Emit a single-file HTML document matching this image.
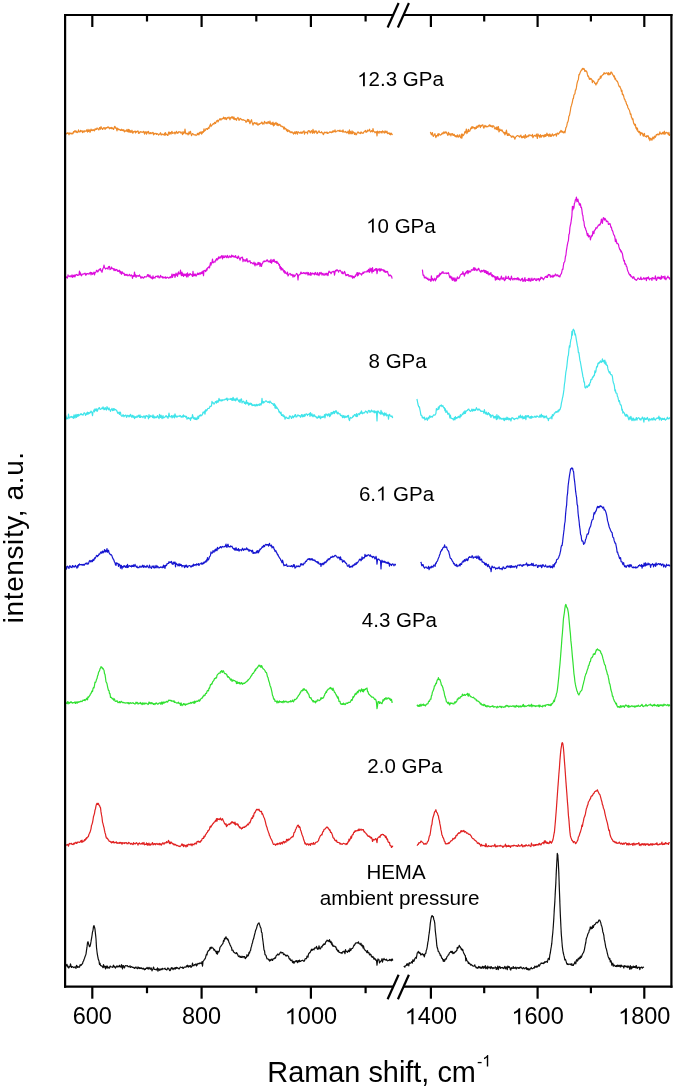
<!DOCTYPE html>
<html><head><meta charset="utf-8"><style>
html,body{margin:0;padding:0;background:#fff;}
svg{display:block;will-change:transform;}
text{font-family:"Liberation Sans",sans-serif;fill:#000;}
.o{fill:transparent;}
</style></head><body>
<svg width="675" height="1088" viewBox="0 0 675 1088">
<defs><filter id="bl" x="-2%" y="-2%" width="104%" height="104%"><feGaussianBlur stdDeviation="0.35"/></filter></defs>
<rect width="675" height="1088" fill="#fff"/>
<g fill="none" stroke-width="1.2" stroke-linejoin="round" filter="url(#bl)">
<path d="M65.5,134.0 66.0,134.2 66.5,133.6 67.0,133.0 67.5,133.3 68.0,132.7 68.5,133.6 69.0,134.8 69.5,133.0 70.0,132.8 70.5,133.7 71.0,133.5 71.5,133.2 72.0,134.1 72.5,133.0 73.0,133.6 73.5,131.6 74.0,132.4 74.5,130.9 75.0,131.4 75.5,130.8 76.0,132.3 76.5,131.2 77.0,132.6 77.5,132.4 78.0,132.0 78.5,129.8 79.0,131.6 79.5,132.0 80.0,132.0 80.5,130.4 81.0,131.3 81.5,130.8 82.0,130.9 82.5,132.6 83.0,130.8 83.5,131.4 84.0,132.2 84.5,130.8 85.0,131.1 85.5,131.3 86.0,131.1 86.5,129.9 87.0,131.0 87.5,132.1 88.0,129.3 88.5,131.5 89.0,130.7 89.5,129.9 90.0,132.3 90.5,131.0 91.0,129.1 91.5,130.2 92.0,130.6 92.5,129.8 93.0,130.5 93.5,129.7 94.0,130.3 94.5,130.9 95.0,128.9 95.5,129.6 96.0,128.9 96.5,129.4 97.0,128.0 97.5,128.5 98.0,128.8 98.5,129.7 99.0,129.9 99.5,127.5 100.0,127.9 100.5,129.2 101.0,126.6 101.5,128.0 102.0,128.3 102.5,129.5 103.0,128.9 103.5,127.8 104.0,127.7 104.5,127.8 105.0,129.4 105.5,128.4 106.0,127.6 106.5,128.2 107.0,127.7 107.5,127.6 108.0,126.7 108.5,127.7 109.0,127.3 109.5,128.8 110.0,128.3 110.5,127.7 111.0,128.3 111.5,127.4 112.0,128.8 112.5,127.8 113.0,128.5 113.5,129.4 114.0,128.4 114.5,126.6 115.0,126.4 115.5,128.1 116.0,127.7 116.5,128.9 117.0,130.9 117.5,128.2 118.0,128.5 118.5,129.5 119.0,129.9 119.5,129.4 120.0,129.5 120.5,130.5 121.0,130.5 121.5,129.2 122.0,130.2 122.5,130.5 123.0,129.6 123.5,130.9 124.0,130.0 124.5,131.8 125.0,131.1 125.5,131.1 126.0,130.5 126.5,131.0 127.0,129.3 127.5,131.7 128.0,131.6 128.5,129.3 129.0,132.2 129.5,129.8 130.0,132.2 130.5,130.7 131.0,132.3 131.5,131.7 132.0,130.2 132.5,132.9 133.0,133.1 133.5,131.7 134.0,131.6 134.5,131.7 135.0,131.0 135.5,133.0 136.0,131.5 136.5,132.0 137.0,131.3 137.5,131.5 138.0,130.9 138.5,133.3 139.0,132.0 139.5,133.1 140.0,132.3 140.5,131.6 141.0,132.0 141.5,131.9 142.0,132.4 142.5,132.1 143.0,132.2 143.5,131.3 144.0,131.8 144.5,134.2 145.0,132.1 145.5,131.8 146.0,133.1 146.5,134.2 147.0,131.5 147.5,132.8 148.0,132.4 148.5,131.4 149.0,133.8 149.5,133.2 150.0,133.3 150.5,132.6 151.0,133.8 151.5,132.9 152.0,133.2 152.5,132.5 153.0,132.4 153.5,134.8 154.0,133.2 154.5,134.0 155.0,133.7 155.5,133.4 156.0,133.3 156.5,134.4 157.0,133.6 157.5,133.8 158.0,134.0 158.5,135.1 159.0,134.6 159.5,134.3 160.0,133.5 160.5,132.7 161.0,134.9 161.5,134.9 162.0,133.9 162.5,134.5 163.0,134.7 163.5,134.7 164.0,134.8 164.5,133.2 165.0,135.4 165.5,132.7 166.0,134.6 166.5,134.2 167.0,134.5 167.5,135.4 168.0,135.3 168.5,132.5 169.0,132.0 169.5,134.2 170.0,132.5 170.5,132.6 171.0,134.1 171.5,131.8 172.0,131.3 172.5,133.4 173.0,133.2 173.5,132.9 174.0,133.0 174.5,132.2 175.0,134.0 175.5,132.8 176.0,132.0 176.5,131.3 177.0,133.3 177.5,132.7 178.0,133.2 178.5,131.8 179.0,132.1 179.5,131.8 180.0,131.9 180.5,132.9 181.0,132.0 181.5,133.0 182.0,133.0 182.5,134.7 183.0,131.5 183.5,133.7 184.0,132.9 184.5,133.0 185.0,129.2 185.5,132.8 186.0,134.0 186.5,133.4 187.0,133.6 187.5,133.4 188.0,134.9 188.5,133.9 189.0,131.9 189.5,133.9 190.0,132.4 190.5,131.3 191.0,133.9 191.5,135.7 192.0,134.6 192.5,133.5 193.0,133.8 193.5,134.4 194.0,134.9 194.5,134.8 195.0,134.7 195.5,134.8 196.0,135.5 196.5,135.1 197.0,134.7 197.5,133.3 198.0,134.6 198.5,133.3 199.0,134.8 199.5,132.3 200.0,133.2 200.5,133.1 201.0,131.6 201.5,134.2 202.0,133.7 202.5,131.7 203.0,132.6 203.5,131.9 204.0,128.8 204.5,131.1 205.0,130.4 205.5,130.2 206.0,128.6 206.5,129.0 207.0,128.6 207.5,129.4 208.0,128.2 208.5,127.7 209.0,128.4 209.5,126.0 210.0,125.7 210.5,123.9 211.0,126.6 211.5,125.6 212.0,125.2 212.5,124.6 213.0,123.7 213.5,123.5 214.0,124.0 214.5,122.4 215.0,122.4 215.5,123.4 216.0,122.2 216.5,121.3 217.0,120.5 217.5,120.2 218.0,122.0 218.5,120.7 219.0,120.1 219.5,119.5 220.0,118.6 220.5,119.4 221.0,120.1 221.5,118.8 222.0,118.8 222.5,118.7 223.0,118.9 223.5,117.2 224.0,118.4 224.5,117.7 225.0,119.3 225.5,117.6 226.0,118.8 226.5,119.6 227.0,117.9 227.5,117.5 228.0,118.2 228.5,118.0 229.0,117.0 229.5,118.4 230.0,119.8 230.5,117.7 231.0,117.7 231.5,116.9 232.0,118.2 232.5,116.8 233.0,117.0 233.5,119.2 234.0,117.2 234.5,119.2 235.0,119.6 235.5,118.5 236.0,118.9 236.5,120.3 237.0,118.4 237.5,118.1 238.0,117.4 238.5,118.9 239.0,120.3 239.5,120.0 240.0,118.3 240.5,118.5 241.0,118.9 241.5,119.8 242.0,119.5 242.5,120.0 243.0,120.2 243.5,119.7 244.0,120.1 244.5,120.5 245.0,120.3 245.5,121.0 246.0,122.4 246.5,121.3 247.0,120.9 247.5,119.4 248.0,121.5 248.5,119.5 249.0,120.2 249.5,122.5 250.0,123.7 250.5,122.0 251.0,120.7 251.5,119.7 252.0,122.1 252.5,123.5 253.0,125.2 253.5,123.5 254.0,122.7 254.5,122.5 255.0,123.7 255.5,123.6 256.0,122.8 256.5,124.1 257.0,122.9 257.5,125.0 258.0,125.0 258.5,125.0 259.0,123.5 259.5,124.3 260.0,123.7 260.5,123.4 261.0,123.3 261.5,122.3 262.0,122.1 262.5,124.1 263.0,123.1 263.5,123.4 264.0,124.0 264.5,121.4 265.0,122.2 265.5,123.0 266.0,123.2 266.5,122.4 267.0,123.7 267.5,122.9 268.0,121.6 268.5,121.8 269.0,123.5 269.5,123.2 270.0,121.0 270.5,124.1 271.0,123.5 271.5,124.3 272.0,122.7 272.5,124.6 273.0,122.2 273.5,125.8 274.0,123.4 274.5,125.1 275.0,123.2 275.5,124.0 276.0,122.4 276.5,123.8 277.0,125.2 277.5,123.3 278.0,125.7 278.5,125.3 279.0,124.2 279.5,125.0 280.0,124.4 280.5,126.1 281.0,125.9 281.5,126.0 282.0,126.8 282.5,126.4 283.0,126.5 283.5,128.0 284.0,129.2 284.5,127.2 285.0,129.0 285.5,128.7 286.0,128.6 286.5,130.6 287.0,129.6 287.5,131.7 288.0,129.8 288.5,131.2 289.0,130.9 289.5,130.7 290.0,132.3 290.5,131.8 291.0,132.8 291.5,132.4 292.0,131.7 292.5,132.8 293.0,133.1 293.5,134.1 294.0,132.4 294.5,133.3 295.0,131.7 295.5,133.9 296.0,132.3 296.5,131.6 297.0,133.2 297.5,134.2 298.0,131.7 298.5,132.1 299.0,132.4 299.5,132.9 300.0,133.3 300.5,132.2 301.0,132.2 301.5,133.3 302.0,132.0 302.5,133.1 303.0,131.7 303.5,131.4 304.0,130.8 304.5,134.2 305.0,132.1 305.5,132.6 306.0,132.2 306.5,132.4 307.0,132.2 307.5,133.9 308.0,131.1 308.5,130.6 309.0,131.1 309.5,130.8 310.0,132.7 310.5,132.8 311.0,131.1 311.5,130.7 312.0,131.7 312.5,133.3 313.0,129.4 313.5,132.6 314.0,131.1 314.5,133.1 315.0,131.2 315.5,131.9 316.0,130.8 316.5,131.4 317.0,133.6 317.5,133.2 318.0,132.1 318.5,131.7 319.0,130.8 319.5,132.2 320.0,132.6 320.5,132.6 321.0,132.6 321.5,131.7 322.0,132.7 322.5,132.8 323.0,134.1 323.5,134.6 324.0,132.8 324.5,132.2 325.0,132.9 325.5,132.4 326.0,132.3 326.5,132.9 327.0,132.0 327.5,133.5 328.0,132.9 328.5,133.1 329.0,132.7 329.5,132.1 330.0,131.8 330.5,132.4 331.0,132.0 331.5,132.7 332.0,132.4 332.5,131.0 333.0,132.2 333.5,130.8 334.0,131.4 334.5,131.6 335.0,129.8 335.5,132.0 336.0,131.7 336.5,131.4 337.0,131.0 337.5,131.0 338.0,130.4 338.5,131.0 339.0,130.7 339.5,131.3 340.0,130.1 340.5,131.4 341.0,131.4 341.5,131.1 342.0,130.9 342.5,131.9 343.0,129.9 343.5,132.0 344.0,131.9 344.5,132.0 345.0,132.2 345.5,131.4 346.0,131.9 346.5,132.8 347.0,132.7 347.5,132.6 348.0,131.1 348.5,133.2 349.0,133.9 349.5,129.8 350.0,133.2 350.5,131.6 351.0,134.0 351.5,133.1 352.0,130.9 352.5,133.6 353.0,131.9 353.5,132.1 354.0,132.7 354.5,134.5 355.0,132.9 355.5,133.5 356.0,134.8 356.5,134.6 357.0,133.0 357.5,132.8 358.0,131.8 358.5,132.3 359.0,133.2 359.5,133.2 360.0,132.8 360.5,133.6 361.0,131.9 361.5,132.5 362.0,133.2 362.5,133.0 363.0,133.3 363.5,132.6 364.0,131.9 364.5,131.3 365.0,131.1 365.5,130.4 366.0,132.4 366.5,131.7 367.0,131.9 367.5,130.0 368.0,131.1 368.5,130.8 369.0,130.5 369.5,129.2 370.0,130.9 370.5,132.0 371.0,131.5 371.5,130.6 372.0,131.1 372.5,131.8 373.0,128.5 373.5,131.0 374.0,131.6 374.5,131.8 375.0,132.8 375.5,132.3 376.0,131.7 376.5,131.8 377.0,135.9 377.5,131.1 378.0,131.5 378.5,132.4 379.0,133.3 379.5,131.4 380.0,131.5 380.5,131.7 381.0,132.8 381.5,131.6 382.0,133.0 382.5,130.8 383.0,131.6 383.5,131.7 384.0,132.7 384.5,133.0 385.0,130.8 385.5,131.4 386.0,132.7 386.5,131.9 387.0,131.2 387.5,133.7 388.0,133.3 388.5,133.5 389.0,132.7 389.5,134.3 390.0,133.3 390.5,134.8 391.0,133.1 391.5,133.4 392.0,134.6 392.5,133.9" stroke="#EE8A2A"/>
<path d="M430.4,131.8 430.9,133.6 431.4,134.8 431.9,133.6 432.4,132.5 432.9,135.7 433.4,136.4 433.9,135.0 434.4,134.9 434.9,133.6 435.4,135.9 435.9,137.6 436.4,135.7 436.9,136.1 437.4,135.4 437.9,133.9 438.4,136.0 438.9,133.5 439.4,134.4 439.9,134.8 440.4,135.2 440.9,134.7 441.4,134.6 441.9,133.4 442.4,132.9 442.9,134.0 443.4,133.2 443.9,131.8 444.4,132.6 444.9,133.3 445.4,131.9 445.9,132.4 446.4,132.1 446.9,133.8 447.4,134.0 447.9,135.5 448.4,132.3 448.9,133.2 449.4,134.8 449.9,133.8 450.4,133.9 450.9,135.9 451.4,134.2 451.9,133.6 452.4,133.7 452.9,135.4 453.4,135.4 453.9,134.2 454.4,134.7 454.9,136.3 455.4,136.6 455.9,135.6 456.4,136.9 456.9,137.0 457.4,134.9 457.9,136.4 458.4,137.1 458.9,136.2 459.4,134.8 459.9,136.5 460.4,137.3 460.9,137.8 461.4,134.0 461.9,138.1 462.4,134.2 462.9,135.7 463.4,135.4 463.9,134.7 464.4,133.4 464.9,131.6 465.4,132.8 465.9,131.1 466.4,129.0 466.9,133.6 467.4,131.3 467.9,132.1 468.4,129.3 468.9,131.3 469.4,131.2 469.9,130.9 470.4,129.3 470.9,127.9 471.4,128.7 471.9,126.6 472.4,126.8 472.9,128.3 473.4,127.1 473.9,127.7 474.4,127.5 474.9,129.2 475.4,128.5 475.9,127.1 476.4,128.5 476.9,126.1 477.4,126.4 477.9,127.4 478.4,125.3 478.9,126.1 479.4,125.0 479.9,126.3 480.4,127.6 480.9,125.4 481.4,126.2 481.9,125.2 482.4,124.9 482.9,124.8 483.4,127.4 483.9,128.2 484.4,126.5 484.9,125.4 485.4,126.7 485.9,125.8 486.4,126.9 486.9,126.5 487.4,126.5 487.9,126.8 488.4,125.8 488.9,126.0 489.4,124.8 489.9,126.1 490.4,125.2 490.9,126.5 491.4,125.8 491.9,126.8 492.4,127.2 492.9,125.5 493.4,126.2 493.9,126.2 494.4,127.9 494.9,129.0 495.4,128.4 495.9,127.5 496.4,129.4 496.9,126.9 497.4,129.9 497.9,128.2 498.4,126.5 498.9,131.8 499.4,131.1 499.9,129.0 500.4,130.4 500.9,130.3 501.4,130.9 501.9,129.7 502.4,130.7 502.9,132.0 503.4,132.0 503.9,133.2 504.4,132.4 504.9,134.9 505.4,132.3 505.9,133.6 506.4,130.2 506.9,132.8 507.4,135.5 507.9,133.8 508.4,135.4 508.9,133.7 509.4,134.6 509.9,135.5 510.4,135.6 510.9,135.8 511.4,137.2 511.9,137.2 512.4,136.2 512.9,135.9 513.4,137.1 513.9,136.7 514.4,137.7 514.9,139.2 515.4,137.5 515.9,136.7 516.4,136.5 516.9,135.8 517.4,135.7 517.9,135.6 518.4,136.1 518.9,136.0 519.4,137.1 519.9,136.0 520.4,136.1 520.9,135.1 521.4,137.7 521.9,136.6 522.4,137.7 522.9,136.7 523.4,137.3 523.9,135.7 524.4,136.5 524.9,138.4 525.4,134.6 525.9,136.9 526.4,137.3 526.9,136.1 527.4,136.4 527.9,136.9 528.4,135.1 528.9,136.1 529.4,134.9 529.9,135.2 530.4,135.1 530.9,135.6 531.4,135.8 531.9,136.1 532.4,134.3 532.9,137.6 533.4,136.8 533.9,135.9 534.4,135.4 534.9,135.6 535.4,136.2 535.9,136.1 536.4,134.1 536.9,136.4 537.4,138.5 537.9,133.9 538.4,135.0 538.9,136.1 539.4,135.6 539.9,137.6 540.4,134.6 540.9,135.9 541.4,137.1 541.9,135.5 542.4,135.3 542.9,135.8 543.4,135.3 543.9,137.2 544.4,134.8 544.9,136.5 545.4,134.5 545.9,136.3 546.4,135.5 546.9,133.0 547.4,135.4 547.9,134.3 548.4,134.8 548.9,136.6 549.4,134.0 549.9,134.0 550.4,136.3 550.9,135.0 551.4,136.3 551.9,135.1 552.4,133.9 552.9,134.7 553.4,135.9 553.9,135.5 554.4,134.6 554.9,134.6 555.4,134.4 555.9,133.8 556.4,136.2 556.9,134.2 557.4,133.0 557.9,133.4 558.4,134.2 558.9,133.7 559.4,132.5 559.9,131.7 560.4,132.2 560.9,130.4 561.4,130.7 561.9,132.2 562.4,131.3 562.9,132.1 563.4,132.8 563.9,132.1 564.4,131.3 564.9,132.9 565.4,130.4 565.9,127.7 566.4,127.0 566.9,125.2 567.4,122.5 567.9,121.9 568.4,119.9 568.9,116.1 569.4,115.6 569.9,113.1 570.4,110.5 570.9,106.9 571.4,105.7 571.9,103.9 572.4,102.0 572.9,98.9 573.4,98.7 573.9,95.2 574.4,94.3 574.9,93.9 575.4,90.1 575.9,89.9 576.4,87.7 576.9,84.1 577.4,82.0 577.9,80.4 578.4,79.4 578.9,74.7 579.4,74.8 579.9,73.3 580.4,71.9 580.9,70.9 581.4,69.9 581.9,70.1 582.4,68.4 582.9,69.0 583.4,69.3 583.9,68.4 584.4,69.6 584.9,71.5 585.4,70.8 585.9,70.5 586.4,71.7 586.9,71.9 587.4,74.4 587.9,76.3 588.4,76.0 588.9,77.5 589.4,79.3 589.9,78.3 590.4,79.3 590.9,78.5 591.4,79.1 591.9,79.7 592.4,82.6 592.9,80.6 593.4,81.0 593.9,81.5 594.4,82.3 594.9,83.5 595.4,83.3 595.9,85.0 596.4,83.0 596.9,83.7 597.4,82.0 597.9,81.6 598.4,79.1 598.9,79.7 599.4,79.2 599.9,78.5 600.4,76.0 600.9,78.2 601.4,76.4 601.9,75.6 602.4,75.2 602.9,74.6 603.4,74.7 603.9,72.8 604.4,72.8 604.9,73.9 605.4,73.7 605.9,73.2 606.4,73.1 606.9,72.8 607.4,73.5 607.9,74.7 608.4,72.6 608.9,75.0 609.4,74.4 609.9,73.2 610.4,74.3 610.9,72.2 611.4,72.1 611.9,72.8 612.4,74.2 612.9,74.9 613.4,75.6 613.9,77.0 614.4,75.9 614.9,79.2 615.4,78.3 615.9,79.8 616.4,80.8 616.9,80.9 617.4,81.5 617.9,82.6 618.4,84.4 618.9,85.9 619.4,86.8 619.9,86.4 620.4,87.8 620.9,88.9 621.4,91.4 621.9,90.3 622.4,94.6 622.9,94.2 623.4,95.0 623.9,97.2 624.4,99.0 624.9,99.5 625.4,101.3 625.9,101.6 626.4,103.8 626.9,105.1 627.4,105.2 627.9,108.0 628.4,108.2 628.9,109.6 629.4,110.1 629.9,112.1 630.4,114.5 630.9,113.9 631.4,117.1 631.9,117.8 632.4,119.6 632.9,118.7 633.4,122.1 633.9,124.0 634.4,123.9 634.9,125.7 635.4,124.3 635.9,128.1 636.4,127.7 636.9,130.0 637.4,128.2 637.9,131.3 638.4,131.1 638.9,132.6 639.4,131.4 639.9,132.1 640.4,135.1 640.9,132.6 641.4,132.9 641.9,133.6 642.4,133.1 642.9,135.4 643.4,136.2 643.9,134.1 644.4,133.4 644.9,136.3 645.4,136.5 645.9,136.5 646.4,137.0 646.9,135.5 647.4,136.5 647.9,135.8 648.4,136.1 648.9,138.8 649.4,137.8 649.9,140.6 650.4,138.7 650.9,138.1 651.4,139.4 651.9,140.2 652.4,138.8 652.9,137.0 653.4,138.2 653.9,138.8 654.4,136.4 654.9,136.1 655.4,137.3 655.9,136.1 656.4,134.5 656.9,134.8 657.4,134.1 657.9,134.7 658.4,134.2 658.9,134.8 659.4,134.2 659.9,131.9 660.4,133.6 660.9,133.9 661.4,133.5 661.9,134.1 662.4,132.6 662.9,132.3 663.4,134.0 663.9,132.2 664.4,131.2 664.9,134.3 665.4,132.7 665.9,133.2 666.4,132.3 666.9,132.5 667.4,132.8 667.9,133.8 668.4,134.7 668.9,132.4 669.4,135.5 669.8,133.9" stroke="#EE8A2A"/>
<path d="M65.5,276.3 66.0,276.5 66.5,277.6 67.0,277.5 67.5,278.0 68.0,274.9 68.5,276.2 69.0,276.1 69.5,276.6 70.0,275.9 70.5,275.8 71.0,277.0 71.5,276.3 72.0,274.9 72.5,277.4 73.0,276.9 73.5,275.3 74.0,276.6 74.5,275.0 75.0,276.8 75.5,275.3 76.0,274.7 76.5,275.0 77.0,274.5 77.5,275.4 78.0,275.3 78.5,275.1 79.0,274.4 79.5,271.2 80.0,274.9 80.5,272.8 81.0,274.9 81.5,275.8 82.0,274.8 82.5,274.0 83.0,274.2 83.5,274.1 84.0,273.6 84.5,273.5 85.0,273.1 85.5,275.2 86.0,273.9 86.5,274.8 87.0,273.5 87.5,273.7 88.0,273.4 88.5,273.9 89.0,274.2 89.5,273.6 90.0,272.5 90.5,272.3 91.0,274.8 91.5,272.7 92.0,272.6 92.5,274.3 93.0,274.0 93.5,273.1 94.0,272.1 94.5,274.8 95.0,272.7 95.5,272.7 96.0,271.8 96.5,270.4 97.0,270.3 97.5,271.9 98.0,271.7 98.5,270.8 99.0,269.6 99.5,269.1 100.0,270.0 100.5,268.6 101.0,270.8 101.5,270.8 102.0,272.3 102.5,270.1 103.0,268.3 103.5,267.8 104.0,265.0 104.5,267.7 105.0,268.0 105.5,269.0 106.0,268.5 106.5,268.4 107.0,268.0 107.5,268.4 108.0,269.2 108.5,266.6 109.0,267.3 109.5,266.4 110.0,269.6 110.5,269.3 111.0,268.9 111.5,267.0 112.0,268.6 112.5,268.3 113.0,268.8 113.5,268.7 114.0,270.7 114.5,268.8 115.0,270.2 115.5,270.5 116.0,269.4 116.5,269.8 117.0,269.7 117.5,271.3 118.0,270.5 118.5,271.4 119.0,271.0 119.5,270.2 120.0,273.0 120.5,271.3 121.0,273.4 121.5,274.3 122.0,271.6 122.5,272.7 123.0,273.4 123.5,273.3 124.0,273.2 124.5,275.3 125.0,274.4 125.5,275.2 126.0,274.4 126.5,275.3 127.0,274.3 127.5,275.1 128.0,275.8 128.5,275.3 129.0,274.9 129.5,274.3 130.0,275.9 130.5,275.9 131.0,275.3 131.5,274.9 132.0,276.2 132.5,278.3 133.0,275.5 133.5,276.2 134.0,276.3 134.5,272.0 135.0,276.1 135.5,274.9 136.0,277.5 136.5,275.8 137.0,275.3 137.5,275.9 138.0,276.4 138.5,275.7 139.0,276.2 139.5,274.9 140.0,276.1 140.5,277.1 141.0,278.4 141.5,277.1 142.0,276.7 142.5,277.7 143.0,277.5 143.5,278.2 144.0,277.7 144.5,276.5 145.0,276.9 145.5,276.8 146.0,277.0 146.5,276.9 147.0,275.9 147.5,274.6 148.0,276.1 148.5,274.7 149.0,276.9 149.5,276.8 150.0,275.1 150.5,277.6 151.0,277.8 151.5,277.0 152.0,278.6 152.5,278.9 153.0,275.8 153.5,278.1 154.0,277.5 154.5,277.5 155.0,278.0 155.5,276.4 156.0,276.5 156.5,276.3 157.0,276.4 157.5,277.1 158.0,275.7 158.5,276.1 159.0,277.8 159.5,277.1 160.0,277.6 160.5,275.3 161.0,276.5 161.5,276.7 162.0,277.3 162.5,276.7 163.0,278.2 163.5,277.2 164.0,277.3 164.5,277.3 165.0,278.0 165.5,276.8 166.0,278.4 166.5,277.7 167.0,277.4 167.5,277.2 168.0,277.6 168.5,278.1 169.0,277.9 169.5,277.2 170.0,277.6 170.5,276.7 171.0,277.7 171.5,276.2 172.0,274.0 172.5,277.3 173.0,275.9 173.5,274.4 174.0,275.2 174.5,274.4 175.0,277.3 175.5,275.5 176.0,273.2 176.5,275.2 177.0,274.1 177.5,276.4 178.0,273.2 178.5,271.9 179.0,274.2 179.5,273.7 180.0,273.6 180.5,270.2 181.0,274.4 181.5,275.7 182.0,272.1 182.5,275.3 183.0,273.5 183.5,276.5 184.0,274.6 184.5,274.1 185.0,275.5 185.5,274.9 186.0,273.9 186.5,277.0 187.0,274.1 187.5,272.9 188.0,276.8 188.5,274.5 189.0,274.3 189.5,275.3 190.0,273.5 190.5,273.7 191.0,274.7 191.5,274.7 192.0,275.3 192.5,276.4 193.0,271.3 193.5,275.8 194.0,275.9 194.5,274.1 195.0,275.4 195.5,274.1 196.0,276.1 196.5,275.3 197.0,274.7 197.5,273.1 198.0,274.4 198.5,273.3 199.0,274.6 199.5,273.5 200.0,272.6 200.5,274.1 201.0,273.6 201.5,272.0 202.0,273.6 202.5,271.8 203.0,271.1 203.5,275.7 204.0,270.5 204.5,270.5 205.0,270.3 205.5,271.6 206.0,271.1 206.5,268.8 207.0,270.1 207.5,267.9 208.0,267.7 208.5,267.6 209.0,266.4 209.5,268.0 210.0,265.2 210.5,262.6 211.0,265.1 211.5,262.8 212.0,262.4 212.5,259.2 213.0,262.9 213.5,262.3 214.0,261.9 214.5,261.8 215.0,262.2 215.5,260.0 216.0,260.7 216.5,258.7 217.0,258.7 217.5,259.9 218.0,258.9 218.5,256.9 219.0,258.4 219.5,257.6 220.0,256.8 220.5,257.9 221.0,256.9 221.5,255.7 222.0,256.1 222.5,258.9 223.0,255.5 223.5,257.2 224.0,257.6 224.5,257.5 225.0,255.6 225.5,256.4 226.0,256.9 226.5,257.5 227.0,256.0 227.5,255.4 228.0,257.6 228.5,257.7 229.0,256.9 229.5,255.9 230.0,256.9 230.5,256.6 231.0,257.4 231.5,255.2 232.0,256.7 232.5,256.4 233.0,255.5 233.5,256.9 234.0,256.8 234.5,256.4 235.0,257.3 235.5,255.5 236.0,257.0 236.5,257.6 237.0,257.6 237.5,258.5 238.0,256.3 238.5,256.1 239.0,258.0 239.5,258.4 240.0,260.2 240.5,258.8 241.0,257.4 241.5,257.4 242.0,257.7 242.5,257.2 243.0,261.6 243.5,259.4 244.0,259.9 244.5,259.9 245.0,261.4 245.5,259.9 246.0,261.0 246.5,258.9 247.0,258.7 247.5,261.7 248.0,262.0 248.5,261.2 249.0,261.1 249.5,261.3 250.0,260.7 250.5,263.2 251.0,262.5 251.5,262.6 252.0,262.8 252.5,263.7 253.0,263.4 253.5,263.8 254.0,262.1 254.5,264.0 255.0,265.9 255.5,263.2 256.0,263.7 256.5,264.9 257.0,265.0 257.5,264.6 258.0,262.3 258.5,264.4 259.0,262.7 259.5,262.9 260.0,266.4 260.5,263.2 261.0,264.2 261.5,266.5 262.0,263.9 262.5,263.7 263.0,261.8 263.5,261.9 264.0,261.0 264.5,261.7 265.0,260.9 265.5,261.2 266.0,261.5 266.5,260.5 267.0,259.9 267.5,259.9 268.0,261.6 268.5,261.1 269.0,262.0 269.5,261.9 270.0,260.5 270.5,262.5 271.0,259.3 271.5,263.2 272.0,262.1 272.5,260.7 273.0,259.9 273.5,261.5 274.0,259.4 274.5,260.6 275.0,262.3 275.5,261.8 276.0,261.4 276.5,263.1 277.0,261.4 277.5,263.4 278.0,263.0 278.5,263.3 279.0,265.3 279.5,264.6 280.0,268.3 280.5,266.5 281.0,269.9 281.5,267.5 282.0,270.0 282.5,268.8 283.0,269.2 283.5,271.3 284.0,272.2 284.5,270.6 285.0,273.4 285.5,271.8 286.0,273.1 286.5,273.6 287.0,274.2 287.5,272.1 288.0,275.9 288.5,275.1 289.0,274.3 289.5,273.9 290.0,273.4 290.5,273.9 291.0,275.3 291.5,275.1 292.0,274.3 292.5,275.0 293.0,277.1 293.5,275.1 294.0,274.8 294.5,276.7 295.0,275.8 295.5,275.3 296.0,274.5 296.5,273.5 297.0,273.8 297.5,274.4 298.0,279.9 298.5,275.1 299.0,275.2 299.5,274.7 300.0,274.6 300.5,273.3 301.0,272.0 301.5,273.6 302.0,273.0 302.5,273.2 303.0,273.5 303.5,272.5 304.0,272.5 304.5,273.5 305.0,273.6 305.5,272.8 306.0,273.9 306.5,273.1 307.0,272.3 307.5,273.3 308.0,275.2 308.5,272.6 309.0,274.5 309.5,274.7 310.0,274.9 310.5,272.5 311.0,275.4 311.5,273.5 312.0,273.1 312.5,273.2 313.0,274.1 313.5,273.5 314.0,273.4 314.5,274.8 315.0,272.8 315.5,272.5 316.0,274.4 316.5,274.4 317.0,274.8 317.5,272.6 318.0,274.8 318.5,274.3 319.0,275.6 319.5,272.6 320.0,274.1 320.5,273.6 321.0,272.3 321.5,273.2 322.0,275.1 322.5,273.5 323.0,273.3 323.5,274.9 324.0,275.1 324.5,275.1 325.0,273.3 325.5,274.0 326.0,275.1 326.5,273.4 327.0,273.3 327.5,274.9 328.0,275.6 328.5,272.7 329.0,271.1 329.5,272.1 330.0,272.4 330.5,272.2 331.0,273.7 331.5,272.7 332.0,271.9 332.5,271.8 333.0,271.3 333.5,272.0 334.0,271.2 334.5,275.1 335.0,272.4 335.5,270.6 336.0,270.3 336.5,270.8 337.0,269.5 337.5,270.5 338.0,270.5 338.5,272.2 339.0,270.9 339.5,270.7 340.0,270.2 340.5,270.6 341.0,271.9 341.5,271.9 342.0,273.5 342.5,271.9 343.0,273.8 343.5,273.2 344.0,273.2 344.5,271.4 345.0,272.4 345.5,274.7 346.0,275.6 346.5,274.7 347.0,275.5 347.5,274.5 348.0,274.8 348.5,274.7 349.0,276.6 349.5,276.1 350.0,275.7 350.5,275.7 351.0,276.8 351.5,276.6 352.0,275.6 352.5,278.2 353.0,276.8 353.5,276.5 354.0,277.9 354.5,277.3 355.0,275.9 355.5,276.3 356.0,274.4 356.5,274.6 357.0,272.7 357.5,276.0 358.0,272.6 358.5,275.1 359.0,273.4 359.5,273.0 360.0,273.6 360.5,273.9 361.0,274.1 361.5,275.1 362.0,273.5 362.5,273.8 363.0,272.1 363.5,273.3 364.0,272.6 364.5,271.8 365.0,272.0 365.5,271.9 366.0,272.0 366.5,272.0 367.0,271.0 367.5,270.6 368.0,272.0 368.5,269.4 369.0,270.3 369.5,272.4 370.0,268.0 370.5,269.9 371.0,271.2 371.5,268.7 372.0,272.9 372.5,267.5 373.0,271.5 373.5,271.5 374.0,270.8 374.5,269.5 375.0,270.1 375.5,268.7 376.0,270.4 376.5,268.5 377.0,273.7 377.5,271.0 378.0,268.9 378.5,269.7 379.0,270.2 379.5,268.7 380.0,271.3 380.5,270.5 381.0,268.7 381.5,270.2 382.0,269.5 382.5,269.7 383.0,270.5 383.5,269.8 384.0,271.7 384.5,270.2 385.0,272.1 385.5,271.3 386.0,272.5 386.5,271.4 387.0,271.7 387.5,271.4 388.0,273.6 388.5,274.3 389.0,276.0 389.5,275.6 390.0,275.0 390.5,275.0 391.0,276.1 391.5,276.2 392.0,278.2 392.5,278.3" stroke="#DC10DC"/>
<path d="M422.4,269.6 422.9,274.3 423.4,275.7 423.9,275.1 424.4,277.8 424.9,277.4 425.4,277.8 425.9,277.0 426.4,278.5 426.9,278.3 427.4,279.3 427.9,278.1 428.4,279.9 428.9,280.2 429.4,279.2 429.9,279.8 430.4,279.7 430.9,281.5 431.4,275.8 431.9,280.1 432.4,278.6 432.9,279.7 433.4,280.8 433.9,279.0 434.4,279.5 434.9,278.2 435.4,280.8 435.9,279.3 436.4,279.1 436.9,276.0 437.4,275.6 437.9,277.3 438.4,276.3 438.9,274.9 439.4,276.1 439.9,273.1 440.4,274.7 440.9,273.5 441.4,273.6 441.9,272.1 442.4,273.1 442.9,271.6 443.4,272.7 443.9,273.5 444.4,273.3 444.9,273.0 445.4,273.2 445.9,273.1 446.4,273.7 446.9,272.8 447.4,273.4 447.9,273.3 448.4,272.7 448.9,274.3 449.4,276.2 449.9,277.7 450.4,276.2 450.9,276.3 451.4,279.0 451.9,277.1 452.4,280.4 452.9,278.6 453.4,277.9 453.9,280.1 454.4,281.0 454.9,277.9 455.4,281.1 455.9,279.2 456.4,280.8 456.9,278.5 457.4,276.8 457.9,278.3 458.4,278.0 458.9,278.6 459.4,277.6 459.9,276.2 460.4,274.9 460.9,274.4 461.4,274.4 461.9,273.6 462.4,274.0 462.9,271.5 463.4,274.1 463.9,273.7 464.4,276.2 464.9,274.2 465.4,272.7 465.9,273.6 466.4,271.5 466.9,272.0 467.4,270.5 467.9,273.7 468.4,272.6 468.9,270.6 469.4,271.5 469.9,272.3 470.4,271.6 470.9,271.3 471.4,269.8 471.9,269.7 472.4,270.0 472.9,270.4 473.4,268.3 473.9,267.7 474.4,270.3 474.9,267.8 475.4,269.8 475.9,269.0 476.4,269.8 476.9,270.7 477.4,269.7 477.9,269.9 478.4,268.3 478.9,268.7 479.4,270.2 479.9,271.2 480.4,271.2 480.9,272.3 481.4,270.4 481.9,270.5 482.4,271.5 482.9,270.7 483.4,270.8 483.9,270.0 484.4,272.4 484.9,270.5 485.4,272.4 485.9,270.7 486.4,273.5 486.9,271.7 487.4,273.9 487.9,271.7 488.4,273.1 488.9,275.0 489.4,273.3 489.9,274.4 490.4,274.1 490.9,272.5 491.4,275.5 491.9,276.0 492.4,274.7 492.9,276.8 493.4,275.7 493.9,275.8 494.4,277.2 494.9,276.8 495.4,280.1 495.9,276.5 496.4,279.0 496.9,279.5 497.4,276.6 497.9,277.0 498.4,279.4 498.9,278.4 499.4,279.3 499.9,280.1 500.4,278.5 500.9,277.8 501.4,276.1 501.9,279.1 502.4,278.0 502.9,279.2 503.4,279.1 503.9,277.5 504.4,280.7 504.9,280.0 505.4,279.8 505.9,276.0 506.4,278.5 506.9,278.3 507.4,278.5 507.9,277.8 508.4,276.4 508.9,279.1 509.4,279.3 509.9,278.4 510.4,280.2 510.9,279.1 511.4,276.1 511.9,278.3 512.4,278.9 512.9,279.9 513.4,278.7 513.9,278.7 514.4,278.3 514.9,279.7 515.4,278.6 515.9,278.5 516.4,278.4 516.9,279.7 517.4,278.6 517.9,277.5 518.4,279.9 518.9,278.6 519.4,279.7 519.9,279.7 520.4,280.6 520.9,280.5 521.4,278.9 521.9,279.3 522.4,278.2 522.9,281.3 523.4,280.1 523.9,281.1 524.4,279.4 524.9,277.6 525.4,281.3 525.9,279.9 526.4,279.9 526.9,279.9 527.4,280.5 527.9,280.4 528.4,278.3 528.9,281.0 529.4,279.4 529.9,278.3 530.4,281.1 530.9,280.9 531.4,279.7 531.9,278.1 532.4,280.2 532.9,280.5 533.4,279.9 533.9,278.6 534.4,279.1 534.9,278.5 535.4,279.9 535.9,280.5 536.4,280.6 536.9,278.7 537.4,279.6 537.9,279.8 538.4,278.6 538.9,278.8 539.4,281.0 539.9,278.9 540.4,279.4 540.9,277.1 541.4,278.3 541.9,277.6 542.4,277.9 542.9,279.0 543.4,279.8 543.9,278.7 544.4,278.1 544.9,277.3 545.4,276.5 545.9,276.8 546.4,277.4 546.9,275.9 547.4,277.5 547.9,275.5 548.4,274.5 548.9,275.2 549.4,274.5 549.9,274.7 550.4,277.2 550.9,275.8 551.4,276.1 551.9,277.0 552.4,277.1 552.9,275.2 553.4,277.0 553.9,276.0 554.4,275.5 554.9,275.9 555.4,274.0 555.9,274.6 556.4,275.2 556.9,275.9 557.4,274.9 557.9,275.1 558.4,276.2 558.9,276.6 559.4,276.0 559.9,276.9 560.4,275.0 560.9,274.2 561.4,273.6 561.9,271.3 562.4,269.2 562.9,269.3 563.4,265.5 563.9,262.7 564.4,262.1 564.9,261.0 565.4,256.7 565.9,255.2 566.4,250.7 566.9,247.7 567.4,244.6 567.9,242.1 568.4,240.8 568.9,234.4 569.4,233.8 569.9,227.6 570.4,225.1 570.9,223.0 571.4,219.3 571.9,215.6 572.4,206.4 572.9,210.0 573.4,206.5 573.9,208.1 574.4,203.4 574.9,202.2 575.4,199.7 575.9,199.8 576.4,197.1 576.9,201.7 577.4,200.9 577.9,199.2 578.4,201.8 578.9,202.7 579.4,205.2 579.9,203.7 580.4,203.9 580.9,207.3 581.4,207.2 581.9,210.1 582.4,214.4 582.9,215.8 583.4,220.5 583.9,221.3 584.4,225.7 584.9,227.7 585.4,227.9 585.9,230.0 586.4,231.0 586.9,233.5 587.4,235.5 587.9,233.7 588.4,237.0 588.9,235.4 589.4,236.4 589.9,235.8 590.4,239.8 590.9,237.4 591.4,236.9 591.9,235.1 592.4,235.8 592.9,231.4 593.4,232.5 593.9,233.7 594.4,230.2 594.9,229.9 595.4,229.9 595.9,227.7 596.4,227.9 596.9,228.2 597.4,226.8 597.9,226.4 598.4,225.0 598.9,225.1 599.4,224.3 599.9,225.1 600.4,223.7 600.9,222.1 601.4,219.1 601.9,221.8 602.4,223.4 602.9,219.1 603.4,217.6 603.9,218.2 604.4,220.2 604.9,218.3 605.4,219.1 605.9,220.2 606.4,221.6 606.9,220.9 607.4,221.4 607.9,221.5 608.4,224.3 608.9,224.4 609.4,223.9 609.9,223.4 610.4,225.0 610.9,227.4 611.4,227.1 611.9,229.9 612.4,230.5 612.9,231.8 613.4,233.7 613.9,235.1 614.4,235.4 614.9,237.5 615.4,241.6 615.9,239.2 616.4,241.1 616.9,243.7 617.4,243.4 617.9,243.7 618.4,244.1 618.9,246.9 619.4,248.4 619.9,249.8 620.4,249.6 620.9,251.8 621.4,251.1 621.9,252.8 622.4,253.6 622.9,257.0 623.4,259.2 623.9,261.1 624.4,260.5 624.9,264.2 625.4,263.7 625.9,264.5 626.4,266.7 626.9,266.8 627.4,269.6 627.9,271.2 628.4,272.0 628.9,273.9 629.4,274.1 629.9,275.3 630.4,274.6 630.9,276.7 631.4,276.2 631.9,276.9 632.4,277.7 632.9,278.3 633.4,276.7 633.9,277.0 634.4,278.5 634.9,279.5 635.4,279.4 635.9,280.0 636.4,280.4 636.9,279.6 637.4,279.1 637.9,278.0 638.4,278.1 638.9,278.6 639.4,279.4 639.9,279.3 640.4,279.1 640.9,277.0 641.4,279.7 641.9,279.2 642.4,279.2 642.9,279.2 643.4,278.2 643.9,277.7 644.4,279.1 644.9,279.0 645.4,278.3 645.9,278.0 646.4,280.6 646.9,277.5 647.4,278.0 647.9,278.4 648.4,276.9 648.9,278.2 649.4,279.8 649.9,279.0 650.4,278.6 650.9,278.6 651.4,278.1 651.9,280.4 652.4,277.8 652.9,277.6 653.4,278.1 653.9,278.9 654.4,278.3 654.9,278.7 655.4,275.9 655.9,279.2 656.4,280.4 656.9,279.4 657.4,277.7 657.9,277.1 658.4,278.3 658.9,277.0 659.4,278.7 659.9,277.5 660.4,279.0 660.9,279.4 661.4,275.9 661.9,278.3 662.4,277.3 662.9,276.5 663.4,276.5 663.9,277.6 664.4,278.9 664.9,276.2 665.4,278.8 665.9,279.7 666.4,278.2 666.9,278.0 667.4,277.4 667.9,276.1 668.4,277.8 668.9,277.5 669.4,277.8 669.8,279.6" stroke="#DC10DC"/>
<path d="M65.5,418.2 66.0,415.8 66.5,419.0 67.0,418.1 67.5,418.2 68.0,418.8 68.5,414.1 69.0,417.2 69.5,418.0 70.0,417.6 70.5,416.8 71.0,417.0 71.5,416.4 72.0,417.5 72.5,417.7 73.0,416.6 73.5,418.4 74.0,414.8 74.5,416.1 75.0,418.0 75.5,415.7 76.0,414.4 76.5,417.3 77.0,416.4 77.5,414.5 78.0,416.4 78.5,414.4 79.0,415.7 79.5,415.1 80.0,414.7 80.5,413.9 81.0,414.6 81.5,413.8 82.0,414.8 82.5,414.6 83.0,415.2 83.5,413.9 84.0,412.9 84.5,412.8 85.0,413.7 85.5,415.4 86.0,414.6 86.5,413.0 87.0,414.4 87.5,412.1 88.0,414.2 88.5,412.6 89.0,413.6 89.5,413.3 90.0,412.2 90.5,412.6 91.0,411.0 91.5,411.8 92.0,412.8 92.5,415.7 93.0,412.0 93.5,411.2 94.0,409.9 94.5,411.8 95.0,408.9 95.5,409.5 96.0,410.5 96.5,408.8 97.0,411.4 97.5,410.8 98.0,408.9 98.5,408.8 99.0,407.8 99.5,407.6 100.0,409.4 100.5,409.4 101.0,409.0 101.5,408.8 102.0,407.9 102.5,408.7 103.0,406.8 103.5,408.3 104.0,409.7 104.5,409.5 105.0,407.7 105.5,407.8 106.0,409.6 106.5,410.0 107.0,406.7 107.5,407.9 108.0,408.7 108.5,409.8 109.0,407.8 109.5,409.4 110.0,410.1 110.5,411.4 111.0,409.6 111.5,409.1 112.0,408.5 112.5,410.6 113.0,410.4 113.5,408.7 114.0,410.3 114.5,408.9 115.0,409.8 115.5,409.5 116.0,409.8 116.5,410.8 117.0,410.9 117.5,412.8 118.0,413.4 118.5,412.7 119.0,412.2 119.5,414.5 120.0,412.0 120.5,412.4 121.0,415.5 121.5,415.8 122.0,416.4 122.5,416.0 123.0,414.6 123.5,415.5 124.0,416.8 124.5,415.6 125.0,415.7 125.5,415.0 126.0,415.3 126.5,417.3 127.0,416.9 127.5,415.3 128.0,415.3 128.5,415.9 129.0,417.0 129.5,415.3 130.0,416.3 130.5,414.3 131.0,415.2 131.5,416.9 132.0,417.4 132.5,415.3 133.0,415.7 133.5,417.3 134.0,416.1 134.5,418.6 135.0,417.0 135.5,416.7 136.0,417.6 136.5,417.3 137.0,415.9 137.5,417.1 138.0,416.4 138.5,415.2 139.0,415.5 139.5,417.5 140.0,414.8 140.5,417.5 141.0,416.7 141.5,416.3 142.0,417.0 142.5,416.9 143.0,417.7 143.5,416.0 144.0,416.2 144.5,416.2 145.0,418.4 145.5,417.4 146.0,415.5 146.5,416.1 147.0,415.7 147.5,416.5 148.0,416.7 148.5,418.8 149.0,414.6 149.5,417.5 150.0,416.9 150.5,415.7 151.0,416.3 151.5,416.0 152.0,416.5 152.5,417.5 153.0,414.9 153.5,417.8 154.0,416.1 154.5,418.0 155.0,416.9 155.5,417.7 156.0,417.0 156.5,417.6 157.0,416.5 157.5,415.6 158.0,417.2 158.5,417.2 159.0,418.6 159.5,414.4 160.0,416.3 160.5,417.5 161.0,415.2 161.5,416.2 162.0,418.6 162.5,417.9 163.0,415.6 163.5,417.9 164.0,417.7 164.5,417.3 165.0,416.9 165.5,416.7 166.0,415.6 166.5,415.9 167.0,417.2 167.5,416.6 168.0,418.4 168.5,416.1 169.0,413.2 169.5,416.1 170.0,416.8 170.5,416.9 171.0,416.5 171.5,415.6 172.0,418.0 172.5,415.8 173.0,417.2 173.5,416.2 174.0,415.2 174.5,417.9 175.0,413.9 175.5,415.6 176.0,416.9 176.5,416.1 177.0,417.2 177.5,416.4 178.0,416.0 178.5,416.2 179.0,416.3 179.5,416.3 180.0,415.4 180.5,415.7 181.0,417.1 181.5,417.1 182.0,416.5 182.5,415.8 183.0,417.3 183.5,414.9 184.0,416.4 184.5,416.5 185.0,416.0 185.5,417.1 186.0,416.3 186.5,416.3 187.0,419.1 187.5,418.1 188.0,418.6 188.5,417.6 189.0,418.6 189.5,418.5 190.0,418.1 190.5,420.3 191.0,417.7 191.5,418.3 192.0,418.0 192.5,414.6 193.0,416.8 193.5,418.3 194.0,418.9 194.5,417.7 195.0,419.4 195.5,419.5 196.0,417.7 196.5,419.4 197.0,419.6 197.5,418.0 198.0,416.2 198.5,418.6 199.0,416.4 199.5,415.4 200.0,415.9 200.5,414.8 201.0,416.0 201.5,415.2 202.0,415.2 202.5,414.3 203.0,412.2 203.5,412.3 204.0,412.9 204.5,411.2 205.0,414.1 205.5,410.4 206.0,409.7 206.5,411.0 207.0,410.2 207.5,409.0 208.0,408.3 208.5,408.5 209.0,408.4 209.5,407.8 210.0,406.2 210.5,406.4 211.0,406.3 211.5,405.7 212.0,401.3 212.5,403.1 213.0,402.7 213.5,402.9 214.0,404.2 214.5,403.3 215.0,402.6 215.5,401.6 216.0,401.5 216.5,403.1 217.0,400.5 217.5,401.2 218.0,402.4 218.5,401.0 219.0,398.4 219.5,400.7 220.0,399.8 220.5,400.0 221.0,401.1 221.5,400.5 222.0,399.6 222.5,400.7 223.0,400.2 223.5,399.8 224.0,400.0 224.5,399.9 225.0,399.2 225.5,399.0 226.0,399.5 226.5,398.4 227.0,398.1 227.5,400.6 228.0,399.0 228.5,399.2 229.0,399.1 229.5,399.2 230.0,399.2 230.5,399.3 231.0,398.4 231.5,400.2 232.0,398.5 232.5,400.3 233.0,397.4 233.5,398.3 234.0,400.5 234.5,399.4 235.0,398.9 235.5,400.9 236.0,398.8 236.5,400.0 237.0,397.8 237.5,399.7 238.0,399.6 238.5,401.0 239.0,401.5 239.5,399.8 240.0,402.5 240.5,400.4 241.0,399.0 241.5,398.9 242.0,403.0 242.5,401.5 243.0,401.6 243.5,401.1 244.0,402.1 244.5,403.5 245.0,402.2 245.5,404.2 246.0,402.3 246.5,400.3 247.0,403.6 247.5,402.5 248.0,402.8 248.5,405.2 249.0,403.1 249.5,404.7 250.0,403.7 250.5,403.1 251.0,404.5 251.5,403.5 252.0,405.6 252.5,405.4 253.0,404.7 253.5,405.4 254.0,405.4 254.5,404.7 255.0,406.0 255.5,404.9 256.0,405.9 256.5,404.3 257.0,405.4 257.5,405.7 258.0,404.4 258.5,404.6 259.0,405.2 259.5,405.3 260.0,403.5 260.5,404.3 261.0,405.1 261.5,403.5 262.0,398.3 262.5,402.6 263.0,403.2 263.5,401.5 264.0,402.7 264.5,402.0 265.0,401.8 265.5,401.0 266.0,400.8 266.5,401.2 267.0,401.6 267.5,402.2 268.0,402.3 268.5,401.7 269.0,402.3 269.5,402.9 270.0,401.0 270.5,402.2 271.0,402.4 271.5,403.3 272.0,403.5 272.5,403.8 273.0,403.5 273.5,405.3 274.0,405.2 274.5,403.7 275.0,408.0 275.5,405.1 276.0,408.5 276.5,406.9 277.0,407.6 277.5,408.7 278.0,409.0 278.5,409.8 279.0,412.1 279.5,411.4 280.0,412.7 280.5,413.6 281.0,412.1 281.5,415.4 282.0,415.0 282.5,415.8 283.0,414.5 283.5,416.6 284.0,416.6 284.5,416.0 285.0,419.2 285.5,417.7 286.0,417.0 286.5,417.5 287.0,418.2 287.5,418.5 288.0,417.9 288.5,418.5 289.0,418.7 289.5,415.9 290.0,416.7 290.5,416.1 291.0,417.1 291.5,418.5 292.0,417.6 292.5,415.8 293.0,416.5 293.5,417.7 294.0,416.1 294.5,416.4 295.0,414.7 295.5,414.5 296.0,417.1 296.5,416.5 297.0,416.7 297.5,415.0 298.0,415.1 298.5,415.2 299.0,416.0 299.5,415.7 300.0,415.7 300.5,417.3 301.0,416.7 301.5,414.6 302.0,414.6 302.5,416.9 303.0,414.8 303.5,416.4 304.0,416.6 304.5,414.4 305.0,416.1 305.5,414.9 306.0,413.9 306.5,413.8 307.0,414.3 307.5,415.6 308.0,414.3 308.5,414.5 309.0,414.3 309.5,413.4 310.0,416.4 310.5,412.6 311.0,414.4 311.5,415.7 312.0,413.9 312.5,416.0 313.0,416.8 313.5,414.8 314.0,416.0 314.5,414.8 315.0,416.6 315.5,416.4 316.0,416.6 316.5,417.9 317.0,417.2 317.5,418.2 318.0,417.6 318.5,415.8 319.0,417.4 319.5,417.7 320.0,415.8 320.5,418.7 321.0,417.4 321.5,417.7 322.0,416.4 322.5,417.3 323.0,417.4 323.5,416.7 324.0,416.9 324.5,414.5 325.0,417.9 325.5,415.1 326.0,413.8 326.5,414.8 327.0,414.7 327.5,415.9 328.0,414.1 328.5,415.1 329.0,413.6 329.5,416.6 330.0,414.6 330.5,415.9 331.0,412.6 331.5,414.1 332.0,412.3 332.5,413.8 333.0,413.7 333.5,411.3 334.0,411.7 334.5,413.6 335.0,411.4 335.5,412.1 336.0,410.5 336.5,411.6 337.0,413.3 337.5,413.9 338.0,412.2 338.5,413.1 339.0,413.9 339.5,413.9 340.0,413.7 340.5,415.5 341.0,415.7 341.5,415.8 342.0,415.2 342.5,417.7 343.0,417.7 343.5,415.7 344.0,416.2 344.5,417.8 345.0,415.9 345.5,417.3 346.0,417.1 346.5,416.4 347.0,417.0 347.5,415.7 348.0,416.8 348.5,415.3 349.0,419.6 349.5,420.6 350.0,418.4 350.5,417.4 351.0,418.0 351.5,418.1 352.0,417.7 352.5,417.5 353.0,415.8 353.5,416.6 354.0,415.5 354.5,414.6 355.0,414.5 355.5,415.9 356.0,416.3 356.5,413.6 357.0,416.6 357.5,416.1 358.0,414.0 358.5,413.7 359.0,413.9 359.5,414.7 360.0,413.1 360.5,412.2 361.0,413.5 361.5,410.8 362.0,412.9 362.5,413.8 363.0,412.8 363.5,413.1 364.0,412.7 364.5,412.8 365.0,412.1 365.5,411.0 366.0,411.5 366.5,411.6 367.0,412.8 367.5,413.1 368.0,411.8 368.5,410.5 369.0,410.4 369.5,410.9 370.0,412.5 370.5,411.3 371.0,410.9 371.5,410.1 372.0,411.8 372.5,411.2 373.0,410.9 373.5,411.0 374.0,412.7 374.5,410.8 375.0,412.8 375.5,412.4 376.0,411.2 376.5,412.2 377.0,420.9 377.5,411.0 378.0,411.6 378.5,411.1 379.0,412.8 379.5,412.6 380.0,413.5 380.5,414.1 381.0,410.3 381.5,414.0 382.0,412.0 382.5,414.1 383.0,413.2 383.5,414.4 384.0,415.8 384.5,412.8 385.0,414.9 385.5,414.8 386.0,413.1 386.5,415.8 387.0,415.3 387.5,414.9 388.0,414.9 388.5,419.1 389.0,415.5 389.5,414.3 390.0,415.3 390.5,416.1 391.0,416.2 391.5,416.7 392.0,415.9 392.5,417.7 392.6,416.7" stroke="#40E4EA"/>
<path d="M416.9,399.0 417.4,401.1 417.9,404.0 418.4,405.8 418.9,407.0 419.4,406.9 419.9,409.6 420.4,411.8 420.9,415.1 421.4,415.1 421.9,415.8 422.4,418.0 422.9,417.2 423.4,417.8 423.9,418.4 424.4,417.1 424.9,419.9 425.4,419.5 425.9,418.8 426.4,417.9 426.9,419.2 427.4,420.3 427.9,418.1 428.4,417.5 428.9,418.8 429.4,416.6 429.9,415.7 430.4,417.3 430.9,416.9 431.4,417.0 431.9,416.4 432.4,417.0 432.9,416.0 433.4,415.2 433.9,414.8 434.4,415.1 434.9,415.2 435.4,414.5 435.9,413.5 436.4,408.5 436.9,409.9 437.4,409.7 437.9,409.4 438.4,406.8 438.9,409.1 439.4,407.2 439.9,405.6 440.4,405.9 440.9,405.3 441.4,405.0 441.9,406.6 442.4,406.1 442.9,405.6 443.4,407.0 443.9,408.1 444.4,407.7 444.9,410.6 445.4,408.8 445.9,412.3 446.4,412.0 446.9,410.8 447.4,412.6 447.9,414.3 448.4,413.5 448.9,413.1 449.4,415.2 449.9,418.0 450.4,415.2 450.9,418.1 451.4,418.2 451.9,418.6 452.4,418.6 452.9,418.7 453.4,420.0 453.9,419.4 454.4,417.5 454.9,419.9 455.4,416.6 455.9,418.6 456.4,417.5 456.9,418.3 457.4,417.2 457.9,417.7 458.4,416.3 458.9,417.1 459.4,416.2 459.9,417.9 460.4,414.7 460.9,416.4 461.4,415.4 461.9,414.8 462.4,413.8 462.9,414.5 463.4,412.3 463.9,412.0 464.4,413.7 464.9,410.9 465.4,413.4 465.9,411.2 466.4,411.2 466.9,410.6 467.4,410.5 467.9,409.5 468.4,409.1 468.9,409.2 469.4,410.4 469.9,410.7 470.4,411.4 470.9,410.9 471.4,410.7 471.9,409.0 472.4,411.1 472.9,410.9 473.4,409.3 473.9,410.2 474.4,410.6 474.9,409.4 475.4,410.4 475.9,409.7 476.4,407.7 476.9,409.0 477.4,409.2 477.9,410.3 478.4,409.0 478.9,409.5 479.4,409.1 479.9,410.2 480.4,410.4 480.9,411.5 481.4,411.5 481.9,411.0 482.4,411.3 482.9,411.4 483.4,411.6 483.9,413.3 484.4,409.5 484.9,412.1 485.4,412.9 485.9,414.1 486.4,412.1 486.9,413.9 487.4,414.7 487.9,413.7 488.4,412.5 488.9,414.3 489.4,413.7 489.9,415.9 490.4,414.6 490.9,417.5 491.4,416.0 491.9,415.2 492.4,415.7 492.9,415.2 493.4,416.9 493.9,418.1 494.4,416.5 494.9,417.8 495.4,416.1 495.9,417.5 496.4,419.7 496.9,414.5 497.4,418.8 497.9,418.9 498.4,415.9 498.9,416.5 499.4,417.0 499.9,419.1 500.4,417.8 500.9,418.2 501.4,419.2 501.9,418.7 502.4,418.9 502.9,418.4 503.4,419.9 503.9,418.1 504.4,420.6 504.9,418.6 505.4,418.2 505.9,419.7 506.4,419.6 506.9,417.1 507.4,419.4 507.9,417.8 508.4,418.3 508.9,420.0 509.4,418.3 509.9,419.5 510.4,418.7 510.9,421.0 511.4,418.9 511.9,417.7 512.4,417.8 512.9,417.9 513.4,418.9 513.9,418.7 514.4,419.6 514.9,418.7 515.4,418.5 515.9,418.6 516.4,418.1 516.9,418.4 517.4,418.8 517.9,418.7 518.4,417.3 518.9,416.0 519.4,416.8 519.9,417.9 520.4,415.0 520.9,416.9 521.4,417.8 521.9,416.7 522.4,416.0 522.9,418.9 523.4,418.5 523.9,416.7 524.4,418.3 524.9,418.2 525.4,415.7 525.9,419.6 526.4,415.9 526.9,416.6 527.4,415.7 527.9,416.9 528.4,415.5 528.9,416.9 529.4,418.0 529.9,417.1 530.4,416.6 530.9,418.5 531.4,416.0 531.9,417.9 532.4,416.6 532.9,417.1 533.4,417.0 533.9,417.1 534.4,416.9 534.9,416.2 535.4,416.4 535.9,417.4 536.4,416.9 536.9,415.8 537.4,416.3 537.9,416.3 538.4,417.0 538.9,417.2 539.4,417.2 539.9,415.1 540.4,417.1 540.9,415.7 541.4,414.2 541.9,417.1 542.4,415.5 542.9,416.3 543.4,416.0 543.9,417.9 544.4,416.1 544.9,417.6 545.4,416.9 545.9,416.2 546.4,415.9 546.9,418.1 547.4,418.1 547.9,418.6 548.4,420.6 548.9,418.3 549.4,418.4 549.9,418.0 550.4,418.2 550.9,417.5 551.4,416.5 551.9,419.0 552.4,414.5 552.9,416.0 553.4,415.6 553.9,414.6 554.4,412.9 554.9,413.2 555.4,412.5 555.9,411.6 556.4,412.3 556.9,411.7 557.4,411.2 557.9,412.2 558.4,410.0 558.9,411.1 559.4,409.5 559.9,409.8 560.4,408.2 560.9,406.6 561.4,403.2 561.9,401.1 562.4,398.4 562.9,396.3 563.4,393.3 563.9,389.9 564.4,384.5 564.9,381.5 565.4,376.1 565.9,371.8 566.4,369.4 566.9,365.8 567.4,360.9 567.9,356.6 568.4,355.3 568.9,349.8 569.4,345.8 569.9,347.1 570.4,342.3 570.9,339.5 571.4,338.4 571.9,331.4 572.4,335.2 572.9,330.1 573.4,329.2 573.9,330.3 574.4,330.7 574.9,334.9 575.4,334.0 575.9,336.9 576.4,340.1 576.9,342.9 577.4,345.9 577.9,347.9 578.4,352.6 578.9,352.7 579.4,356.4 579.9,360.2 580.4,362.0 580.9,365.0 581.4,367.9 581.9,370.9 582.4,373.4 582.9,376.7 583.4,377.9 583.9,381.9 584.4,381.8 584.9,387.2 585.4,388.0 585.9,387.7 586.4,386.3 586.9,385.8 587.4,387.4 587.9,386.1 588.4,386.2 588.9,384.5 589.4,385.7 589.9,382.9 590.4,382.6 590.9,379.6 591.4,379.4 591.9,379.6 592.4,377.6 592.9,376.7 593.4,377.0 593.9,375.2 594.4,375.5 594.9,370.8 595.4,372.7 595.9,371.3 596.4,367.7 596.9,366.3 597.4,366.9 597.9,363.6 598.4,362.9 598.9,363.5 599.4,362.1 599.9,362.5 600.4,360.8 600.9,361.7 601.4,362.3 601.9,361.4 602.4,358.8 602.9,361.7 603.4,361.3 603.9,360.5 604.4,363.1 604.9,360.2 605.4,364.2 605.9,362.1 606.4,365.1 606.9,365.0 607.4,365.6 607.9,368.9 608.4,370.5 608.9,371.7 609.4,373.0 609.9,371.7 610.4,373.8 610.9,374.7 611.4,374.6 611.9,375.0 612.4,376.5 612.9,380.4 613.4,382.9 613.9,383.8 614.4,385.9 614.9,390.8 615.4,389.8 615.9,392.9 616.4,393.2 616.9,393.3 617.4,396.3 617.9,397.0 618.4,399.7 618.9,401.7 619.4,400.5 619.9,403.2 620.4,404.8 620.9,404.8 621.4,406.0 621.9,410.1 622.4,409.5 622.9,413.1 623.4,411.9 623.9,412.8 624.4,413.0 624.9,415.0 625.4,416.1 625.9,414.9 626.4,414.4 626.9,416.3 627.4,415.1 627.9,416.3 628.4,418.5 628.9,419.9 629.4,418.3 629.9,417.1 630.4,419.2 630.9,416.4 631.4,418.2 631.9,420.7 632.4,420.1 632.9,418.1 633.4,418.0 633.9,420.6 634.4,419.7 634.9,419.1 635.4,420.1 635.9,419.0 636.4,417.5 636.9,420.2 637.4,418.6 637.9,418.1 638.4,417.7 638.9,418.2 639.4,418.2 639.9,419.7 640.4,418.8 640.9,420.1 641.4,418.7 641.9,418.4 642.4,417.0 642.9,417.9 643.4,419.8 643.9,422.1 644.4,417.8 644.9,418.0 645.4,419.4 645.9,419.5 646.4,418.4 646.9,419.1 647.4,417.4 647.9,418.7 648.4,420.0 648.9,421.0 649.4,418.9 649.9,418.8 650.4,419.5 650.9,420.2 651.4,419.5 651.9,418.3 652.4,419.4 652.9,420.0 653.4,418.3 653.9,417.7 654.4,419.6 654.9,419.4 655.4,420.0 655.9,419.1 656.4,418.4 656.9,418.5 657.4,417.9 657.9,418.0 658.4,418.4 658.9,416.0 659.4,420.0 659.9,417.6 660.4,418.8 660.9,418.2 661.4,420.3 661.9,419.0 662.4,418.3 662.9,419.5 663.4,418.7 663.9,419.4 664.4,418.2 664.9,419.2 665.4,420.2 665.9,419.6 666.4,419.2 666.9,418.5 667.4,417.2 667.9,418.9 668.4,418.3 668.9,418.8 669.4,418.1 669.8,417.4" stroke="#40E4EA"/>
<path d="M65.5,566.2 66.0,567.0 66.5,569.2 67.0,566.7 67.5,566.2 68.0,567.0 68.5,567.4 69.0,568.5 69.5,566.0 70.0,565.7 70.5,566.7 71.0,567.3 71.5,567.2 72.0,567.7 72.5,565.5 73.0,566.0 73.5,566.5 74.0,567.2 74.5,566.8 75.0,566.0 75.5,565.4 76.0,566.9 76.5,566.9 77.0,568.2 77.5,565.7 78.0,567.1 78.5,564.6 79.0,565.1 79.5,563.9 80.0,564.9 80.5,564.5 81.0,564.6 81.5,564.9 82.0,564.4 82.5,565.2 83.0,564.5 83.5,564.4 84.0,565.5 84.5,564.4 85.0,564.2 85.5,563.3 86.0,563.8 86.5,564.0 87.0,562.7 87.5,564.1 88.0,564.2 88.5,563.6 89.0,562.0 89.5,560.8 90.0,560.3 90.5,561.7 91.0,561.9 91.5,560.8 92.0,560.4 92.5,561.6 93.0,559.4 93.5,560.5 94.0,560.0 94.5,557.8 95.0,558.7 95.5,557.6 96.0,556.8 96.5,555.6 97.0,555.4 97.5,556.6 98.0,555.5 98.5,555.6 99.0,553.8 99.5,554.3 100.0,553.9 100.5,552.4 101.0,551.9 101.5,553.2 102.0,552.4 102.5,551.0 103.0,553.0 103.5,551.5 104.0,552.1 104.5,549.6 105.0,550.7 105.5,551.9 106.0,550.3 106.5,551.7 107.0,548.6 107.5,552.2 108.0,551.3 108.5,550.2 109.0,552.7 109.5,553.4 110.0,554.1 110.5,554.8 111.0,554.6 111.5,554.9 112.0,556.1 112.5,557.5 113.0,558.9 113.5,559.1 114.0,560.5 114.5,562.1 115.0,562.5 115.5,564.8 116.0,565.3 116.5,562.9 117.0,563.6 117.5,563.3 118.0,563.6 118.5,566.4 119.0,564.2 119.5,564.3 120.0,565.2 120.5,568.2 121.0,565.4 121.5,565.6 122.0,568.8 122.5,566.5 123.0,566.6 123.5,567.1 124.0,565.5 124.5,566.6 125.0,565.9 125.5,567.3 126.0,567.2 126.5,565.6 127.0,567.6 127.5,564.3 128.0,567.5 128.5,566.6 129.0,565.7 129.5,565.5 130.0,566.2 130.5,566.5 131.0,565.9 131.5,566.9 132.0,565.3 132.5,566.5 133.0,566.5 133.5,564.9 134.0,566.7 134.5,565.4 135.0,564.4 135.5,566.0 136.0,566.3 136.5,567.2 137.0,566.1 137.5,567.7 138.0,567.7 138.5,567.4 139.0,567.6 139.5,566.8 140.0,566.0 140.5,567.0 141.0,567.3 141.5,566.7 142.0,566.3 142.5,565.2 143.0,567.0 143.5,567.4 144.0,565.4 144.5,566.6 145.0,567.1 145.5,566.4 146.0,567.2 146.5,567.2 147.0,565.3 147.5,566.3 148.0,567.0 148.5,567.4 149.0,567.9 149.5,565.1 150.0,566.7 150.5,567.4 151.0,567.8 151.5,568.3 152.0,566.1 152.5,566.6 153.0,566.1 153.5,567.7 154.0,565.9 154.5,568.0 155.0,567.9 155.5,567.5 156.0,565.3 156.5,566.6 157.0,567.8 157.5,566.0 158.0,567.0 158.5,567.1 159.0,568.0 159.5,567.5 160.0,567.5 160.5,566.9 161.0,567.3 161.5,567.1 162.0,567.7 162.5,566.8 163.0,567.6 163.5,565.0 164.0,567.2 164.5,565.7 165.0,568.5 165.5,565.3 166.0,565.6 166.5,565.7 167.0,563.7 167.5,563.9 168.0,563.4 168.5,563.5 169.0,561.7 169.5,562.7 170.0,562.5 170.5,562.0 171.0,562.5 171.5,561.4 172.0,563.9 172.5,563.2 173.0,564.5 173.5,562.3 174.0,562.1 174.5,563.5 175.0,562.0 175.5,566.8 176.0,563.1 176.5,563.6 177.0,564.3 177.5,564.3 178.0,566.0 178.5,565.1 179.0,563.7 179.5,565.8 180.0,564.0 180.5,565.4 181.0,564.5 181.5,565.0 182.0,566.9 182.5,565.5 183.0,565.5 183.5,565.7 184.0,566.0 184.5,567.6 185.0,565.4 185.5,565.4 186.0,567.0 186.5,565.1 187.0,566.1 187.5,567.4 188.0,566.4 188.5,566.0 189.0,565.7 189.5,565.5 190.0,565.7 190.5,566.3 191.0,567.1 191.5,566.8 192.0,565.5 192.5,565.3 193.0,566.4 193.5,564.2 194.0,565.3 194.5,565.3 195.0,564.5 195.5,564.5 196.0,565.6 196.5,563.8 197.0,564.3 197.5,564.4 198.0,564.9 198.5,563.5 199.0,565.5 199.5,564.1 200.0,564.0 200.5,563.8 201.0,563.3 201.5,562.9 202.0,564.5 202.5,563.5 203.0,563.0 203.5,563.7 204.0,562.0 204.5,562.9 205.0,562.1 205.5,561.1 206.0,562.1 206.5,559.9 207.0,561.2 207.5,557.5 208.0,559.8 208.5,559.9 209.0,558.5 209.5,556.7 210.0,556.3 210.5,555.2 211.0,551.9 211.5,553.0 212.0,553.2 212.5,553.0 213.0,550.5 213.5,551.4 214.0,552.2 214.5,550.9 215.0,549.6 215.5,551.0 216.0,548.8 216.5,550.0 217.0,550.6 217.5,547.3 218.0,548.9 218.5,548.7 219.0,548.5 219.5,547.4 220.0,547.6 220.5,546.6 221.0,547.3 221.5,547.9 222.0,546.8 222.5,546.4 223.0,546.7 223.5,546.9 224.0,546.9 224.5,546.6 225.0,546.7 225.5,545.4 226.0,544.1 226.5,546.8 227.0,547.4 227.5,545.0 228.0,544.2 228.5,546.3 229.0,546.8 229.5,546.5 230.0,547.0 230.5,545.9 231.0,546.3 231.5,546.5 232.0,546.2 232.5,548.0 233.0,548.0 233.5,548.9 234.0,548.3 234.5,550.0 235.0,548.7 235.5,550.1 236.0,547.7 236.5,549.1 237.0,550.5 237.5,549.5 238.0,550.0 238.5,548.5 239.0,551.1 239.5,550.2 240.0,549.6 240.5,550.0 241.0,549.8 241.5,550.7 242.0,549.6 242.5,548.2 243.0,549.1 243.5,550.4 244.0,549.7 244.5,548.9 245.0,549.7 245.5,549.2 246.0,549.6 246.5,547.8 247.0,548.4 247.5,549.8 248.0,549.2 248.5,549.9 249.0,551.4 249.5,549.8 250.0,550.6 250.5,550.3 251.0,550.5 251.5,551.9 252.0,550.5 252.5,550.2 253.0,553.3 253.5,552.3 254.0,553.5 254.5,552.7 255.0,552.7 255.5,553.1 256.0,552.9 256.5,551.1 257.0,552.8 257.5,550.6 258.0,551.2 258.5,552.8 259.0,550.3 259.5,551.1 260.0,549.0 260.5,549.4 261.0,548.5 261.5,548.4 262.0,547.0 262.5,546.6 263.0,547.3 263.5,545.4 264.0,545.7 264.5,546.6 265.0,545.2 265.5,544.7 266.0,544.3 266.5,545.1 267.0,544.5 267.5,544.8 268.0,544.5 268.5,546.2 269.0,544.4 269.5,543.4 270.0,545.4 270.5,545.6 271.0,546.1 271.5,545.1 272.0,547.8 272.5,547.3 273.0,546.7 273.5,546.9 274.0,549.2 274.5,549.4 275.0,551.3 275.5,550.7 276.0,550.9 276.5,552.9 277.0,552.9 277.5,554.9 278.0,554.6 278.5,556.2 279.0,556.9 279.5,557.9 280.0,558.5 280.5,559.2 281.0,560.7 281.5,561.2 282.0,562.7 282.5,560.1 283.0,562.0 283.5,564.3 284.0,565.8 284.5,565.0 285.0,565.4 285.5,565.4 286.0,564.8 286.5,564.2 287.0,566.1 287.5,566.5 288.0,566.2 288.5,566.2 289.0,566.2 289.5,566.0 290.0,566.3 290.5,566.2 291.0,566.5 291.5,565.6 292.0,565.9 292.5,566.9 293.0,566.2 293.5,564.6 294.0,566.7 294.5,564.8 295.0,568.2 295.5,567.3 296.0,567.3 296.5,566.2 297.0,565.8 297.5,566.5 298.0,566.7 298.5,565.9 299.0,566.5 299.5,566.7 300.0,566.4 300.5,564.7 301.0,563.5 301.5,564.9 302.0,563.9 302.5,564.4 303.0,565.0 303.5,564.5 304.0,563.0 304.5,563.2 305.0,563.2 305.5,561.4 306.0,561.2 306.5,561.3 307.0,560.2 307.5,559.5 308.0,559.0 308.5,559.3 309.0,558.6 309.5,559.8 310.0,558.5 310.5,559.9 311.0,559.7 311.5,558.7 312.0,559.8 312.5,558.8 313.0,560.5 313.5,560.1 314.0,559.9 314.5,560.8 315.0,560.2 315.5,561.3 316.0,561.7 316.5,561.6 317.0,562.4 317.5,561.7 318.0,563.3 318.5,562.1 319.0,563.9 319.5,564.0 320.0,564.4 320.5,563.5 321.0,566.5 321.5,563.9 322.0,564.1 322.5,563.3 323.0,564.8 323.5,563.1 324.0,564.0 324.5,562.1 325.0,562.8 325.5,561.9 326.0,562.5 326.5,561.1 327.0,560.2 327.5,560.9 328.0,559.1 328.5,558.8 329.0,559.8 329.5,558.5 330.0,558.9 330.5,557.6 331.0,556.8 331.5,557.4 332.0,557.4 332.5,556.2 333.0,556.3 333.5,556.9 334.0,556.7 334.5,556.0 335.0,555.4 335.5,555.4 336.0,555.8 336.5,556.9 337.0,557.0 337.5,557.0 338.0,558.2 338.5,557.1 339.0,557.3 339.5,557.6 340.0,559.8 340.5,556.9 341.0,559.2 341.5,559.6 342.0,559.7 342.5,562.1 343.0,561.2 343.5,561.3 344.0,560.4 344.5,562.0 345.0,561.9 345.5,562.7 346.0,563.4 346.5,563.4 347.0,564.9 347.5,566.2 348.0,566.2 348.5,566.0 349.0,564.6 349.5,567.3 350.0,567.5 350.5,566.6 351.0,566.4 351.5,566.9 352.0,565.9 352.5,567.0 353.0,565.2 353.5,565.1 354.0,565.5 354.5,563.9 355.0,564.7 355.5,564.7 356.0,562.8 356.5,564.1 357.0,562.4 357.5,562.8 358.0,562.1 358.5,561.1 359.0,560.6 359.5,559.2 360.0,559.6 360.5,559.2 361.0,560.8 361.5,560.0 362.0,556.9 362.5,559.2 363.0,558.4 363.5,557.6 364.0,557.9 364.5,557.8 365.0,554.3 365.5,556.4 366.0,556.4 366.5,555.3 367.0,556.0 367.5,555.6 368.0,554.9 368.5,554.7 369.0,555.0 369.5,556.0 370.0,555.7 370.5,554.9 371.0,556.5 371.5,556.3 372.0,557.0 372.5,557.7 373.0,556.3 373.5,557.0 374.0,556.7 374.5,558.0 375.0,559.0 375.5,558.2 376.0,556.3 376.5,558.3 377.0,564.1 377.5,559.9 378.0,559.1 378.5,559.0 379.0,559.5 379.5,560.1 380.0,560.3 380.5,560.8 381.0,568.9 381.5,561.4 382.0,560.2 382.5,562.1 383.0,561.3 383.5,561.3 384.0,562.5 384.5,561.2 385.0,562.1 385.5,561.9 386.0,563.1 386.5,562.5 387.0,563.0 387.5,563.4 388.0,562.0 388.5,563.7 389.0,562.9 389.5,566.2 390.0,563.7 390.5,564.5 391.0,564.6 391.5,565.5 392.0,564.3 392.5,563.9 393.0,563.9 393.5,564.9 394.0,565.8 394.5,564.8 395.0,564.2 395.5,564.9 396.0,564.9" stroke="#1818D0"/>
<path d="M420.6,563.0 421.1,562.3 421.6,565.1 422.1,565.8 422.6,564.6 423.1,564.7 423.6,566.6 424.1,567.4 424.6,568.2 425.1,567.3 425.6,567.2 426.1,567.1 426.6,567.1 427.1,568.4 427.6,568.1 428.1,567.9 428.6,566.3 429.1,569.7 429.6,567.4 430.1,567.9 430.6,566.9 431.1,567.9 431.6,566.1 432.1,567.1 432.6,566.6 433.1,567.1 433.6,565.2 434.1,565.1 434.6,565.1 435.1,566.5 435.6,563.0 436.1,563.6 436.6,561.8 437.1,561.5 437.6,560.5 438.1,558.9 438.6,557.8 439.1,556.7 439.6,554.9 440.1,554.0 440.6,551.6 441.1,551.3 441.6,549.7 442.1,550.0 442.6,548.6 443.1,547.6 443.6,547.1 444.1,547.5 444.6,544.8 445.1,547.2 445.6,547.2 446.1,547.5 446.6,546.9 447.1,548.9 447.6,550.0 448.1,550.8 448.6,551.2 449.1,553.3 449.6,555.2 450.1,557.6 450.6,558.5 451.1,558.6 451.6,559.5 452.1,560.5 452.6,561.5 453.1,561.9 453.6,563.8 454.1,563.4 454.6,564.0 455.1,565.5 455.6,565.2 456.1,565.8 456.6,564.4 457.1,566.7 457.6,566.0 458.1,565.7 458.6,565.9 459.1,565.3 459.6,564.2 460.1,566.0 460.6,563.6 461.1,564.3 461.6,564.5 462.1,562.0 462.6,562.1 463.1,560.9 463.6,562.0 464.1,560.5 464.6,559.6 465.1,561.2 465.6,560.6 466.1,558.8 466.6,560.1 467.1,559.0 467.6,560.7 468.1,559.6 468.6,557.4 469.1,557.4 469.6,556.7 470.1,557.3 470.6,557.1 471.1,557.5 471.6,557.0 472.1,555.7 472.6,556.3 473.1,558.1 473.6,558.0 474.1,557.0 474.6,557.1 475.1,557.1 475.6,557.4 476.1,556.1 476.6,558.3 477.1,557.2 477.6,558.0 478.1,555.9 478.6,558.3 479.1,559.4 479.6,556.8 480.1,560.2 480.6,559.8 481.1,559.3 481.6,559.1 482.1,561.9 482.6,561.7 483.1,562.5 483.6,562.3 484.1,562.4 484.6,564.3 485.1,563.3 485.6,565.2 486.1,563.4 486.6,564.3 487.1,565.6 487.6,566.6 488.1,564.4 488.6,565.1 489.1,566.8 489.6,566.7 490.1,568.5 490.6,568.4 491.1,571.7 491.6,567.9 492.1,566.0 492.6,566.9 493.1,567.5 493.6,567.8 494.1,567.0 494.6,567.4 495.1,567.6 495.6,569.2 496.1,568.7 496.6,568.1 497.1,568.2 497.6,568.6 498.1,567.8 498.6,568.1 499.1,566.9 499.6,568.8 500.1,569.0 500.6,568.5 501.1,568.6 501.6,568.4 502.1,569.7 502.6,568.2 503.1,566.9 503.6,567.0 504.1,568.4 504.6,568.6 505.1,568.3 505.6,568.3 506.1,567.7 506.6,566.3 507.1,566.9 507.6,565.9 508.1,567.0 508.6,566.2 509.1,567.3 509.6,567.0 510.1,565.5 510.6,567.6 511.1,567.5 511.6,565.7 512.1,566.8 512.6,567.2 513.1,566.3 513.6,567.1 514.1,566.5 514.6,567.1 515.1,566.3 515.6,565.9 516.1,566.4 516.6,568.1 517.1,566.0 517.6,565.3 518.1,565.0 518.6,565.2 519.1,565.0 519.6,565.5 520.1,564.5 520.6,565.2 521.1,565.2 521.6,565.3 522.1,566.4 522.6,566.0 523.1,564.5 523.6,565.3 524.1,564.7 524.6,564.9 525.1,564.8 525.6,564.5 526.1,563.9 526.6,563.0 527.1,565.2 527.6,566.0 528.1,564.3 528.6,565.5 529.1,564.8 529.6,565.3 530.1,564.5 530.6,565.0 531.1,565.1 531.6,563.3 532.1,565.4 532.6,565.2 533.1,563.3 533.6,565.9 534.1,565.4 534.6,565.6 535.1,565.8 535.6,565.2 536.1,564.7 536.6,565.2 537.1,565.3 537.6,567.5 538.1,567.2 538.6,565.3 539.1,565.4 539.6,566.1 540.1,566.3 540.6,565.3 541.1,565.1 541.6,567.6 542.1,566.9 542.6,564.8 543.1,564.7 543.6,565.5 544.1,566.4 544.6,566.7 545.1,566.0 545.6,565.0 546.1,566.6 546.6,567.0 547.1,567.1 547.6,566.2 548.1,567.2 548.6,566.7 549.1,565.9 549.6,566.9 550.1,565.8 550.6,567.7 551.1,567.3 551.6,566.3 552.1,567.1 552.6,567.8 553.1,564.7 553.6,565.1 554.1,566.8 554.6,563.5 555.1,564.0 555.6,562.3 556.1,562.6 556.6,559.8 557.1,559.4 557.6,559.2 558.1,558.6 558.6,557.5 559.1,556.1 559.6,555.0 560.1,552.8 560.6,550.8 561.1,547.2 561.6,545.4 562.1,545.6 562.6,541.9 563.1,537.3 563.6,533.3 564.1,529.4 564.6,524.0 565.1,521.5 565.6,513.9 566.1,508.7 566.6,505.2 567.1,496.5 567.6,493.1 568.1,486.0 568.6,482.0 569.1,478.4 569.6,474.8 570.1,472.0 570.6,468.9 571.1,468.8 571.6,468.0 572.1,468.8 572.6,468.2 573.1,470.7 573.6,471.8 574.1,477.6 574.6,481.3 575.1,485.8 575.6,491.2 576.1,494.7 576.6,497.6 577.1,504.2 577.6,505.8 578.1,513.2 578.6,517.5 579.1,521.3 579.6,526.7 580.1,529.7 580.6,534.7 581.1,535.4 581.6,539.8 582.1,541.2 582.6,540.8 583.1,541.8 583.6,544.4 584.1,543.4 584.6,543.2 585.1,541.7 585.6,539.4 586.1,538.4 586.6,536.3 587.1,534.3 587.6,533.9 588.1,534.2 588.6,532.6 589.1,529.7 589.6,528.3 590.1,527.1 590.6,526.3 591.1,523.9 591.6,521.6 592.1,520.0 592.6,519.6 593.1,519.3 593.6,515.2 594.1,512.7 594.6,514.0 595.1,512.5 595.6,511.2 596.1,511.1 596.6,509.2 597.1,507.4 597.6,506.4 598.1,507.7 598.6,506.6 599.1,507.6 599.6,506.1 600.1,506.7 600.6,505.7 601.1,506.5 601.6,506.4 602.1,507.3 602.6,508.1 603.1,507.2 603.6,507.0 604.1,510.0 604.6,509.4 605.1,510.4 605.6,511.3 606.1,513.0 606.6,514.8 607.1,517.6 607.6,520.9 608.1,522.4 608.6,524.5 609.1,526.5 609.6,528.0 610.1,529.1 610.6,530.5 611.1,531.4 611.6,532.3 612.1,532.7 612.6,536.2 613.1,537.4 613.6,537.7 614.1,540.4 614.6,541.8 615.1,543.2 615.6,543.2 616.1,545.6 616.6,548.1 617.1,552.1 617.6,552.0 618.1,554.3 618.6,555.2 619.1,557.0 619.6,558.7 620.1,557.6 620.6,557.8 621.1,561.6 621.6,561.8 622.1,561.9 622.6,563.9 623.1,564.6 623.6,562.7 624.1,565.0 624.6,566.7 625.1,565.7 625.6,566.3 626.1,567.5 626.6,566.4 627.1,565.6 627.6,565.3 628.1,565.3 628.6,566.8 629.1,564.8 629.6,567.0 630.1,564.7 630.6,566.1 631.1,564.8 631.6,565.9 632.1,567.2 632.6,567.5 633.1,567.9 633.6,566.9 634.1,567.2 634.6,567.4 635.1,567.8 635.6,566.9 636.1,568.0 636.6,567.2 637.1,567.7 637.6,566.9 638.1,566.9 638.6,565.5 639.1,565.7 639.6,564.8 640.1,565.6 640.6,565.6 641.1,566.4 641.6,564.5 642.1,568.2 642.6,565.3 643.1,566.4 643.6,566.1 644.1,563.0 644.6,564.8 645.1,566.2 645.6,562.9 646.1,565.5 646.6,564.0 647.1,564.3 647.6,564.9 648.1,563.0 648.6,564.7 649.1,564.0 649.6,563.8 650.1,565.0 650.6,567.4 651.1,564.6 651.6,564.8 652.1,564.3 652.6,563.7 653.1,564.5 653.6,566.8 654.1,564.4 654.6,565.0 655.1,564.1 655.6,566.4 656.1,562.9 656.6,564.8 657.1,564.8 657.6,564.6 658.1,563.5 658.6,563.5 659.1,564.3 659.6,564.6 660.1,563.5 660.6,563.7 661.1,565.1 661.6,565.6 662.1,564.3 662.6,564.2 663.1,564.2 663.6,567.0 664.1,565.4 664.6,565.0 665.1,566.0 665.6,567.2 666.1,566.3 666.6,564.2 667.1,565.4 667.6,565.3 668.1,565.4 668.6,564.8 669.1,565.6 669.6,565.1 669.8,566.4" stroke="#1818D0"/>
<path d="M65.5,702.2 66.0,703.5 66.5,703.0 67.0,703.2 67.5,701.6 68.0,704.0 68.5,702.0 69.0,702.4 69.5,703.3 70.0,702.5 70.5,702.6 71.0,701.5 71.5,702.5 72.0,702.9 72.5,703.1 73.0,702.5 73.5,702.7 74.0,702.8 74.5,702.1 75.0,702.0 75.5,703.5 76.0,701.8 76.5,703.0 77.0,702.2 77.5,703.0 78.0,701.7 78.5,702.3 79.0,702.1 79.5,701.7 80.0,701.9 80.5,701.2 81.0,701.5 81.5,701.2 82.0,701.7 82.5,701.0 83.0,700.1 83.5,700.4 84.0,700.3 84.5,699.6 85.0,700.6 85.5,699.7 86.0,699.7 86.5,698.4 87.0,698.2 87.5,699.8 88.0,696.8 88.5,697.4 89.0,696.7 89.5,695.7 90.0,695.3 90.5,693.8 91.0,693.7 91.5,692.0 92.0,691.0 92.5,691.6 93.0,688.7 93.5,687.4 94.0,687.8 94.5,685.3 95.0,682.1 95.5,682.5 96.0,681.4 96.5,679.4 97.0,678.7 97.5,676.1 98.0,675.1 98.5,672.6 99.0,671.6 99.5,670.8 100.0,668.9 100.5,668.0 101.0,666.6 101.5,667.6 102.0,667.3 102.5,668.8 103.0,668.3 103.5,669.5 104.0,670.2 104.5,673.7 105.0,674.4 105.5,677.8 106.0,681.8 106.5,682.6 107.0,683.8 107.5,686.5 108.0,688.6 108.5,690.5 109.0,690.6 109.5,693.6 110.0,693.7 110.5,697.3 111.0,697.2 111.5,697.6 112.0,698.6 112.5,698.9 113.0,698.3 113.5,700.2 114.0,699.5 114.5,698.9 115.0,701.0 115.5,701.3 116.0,701.4 116.5,701.2 117.0,700.6 117.5,701.8 118.0,702.6 118.5,702.1 119.0,702.7 119.5,701.5 120.0,702.6 120.5,702.7 121.0,701.4 121.5,701.4 122.0,702.0 122.5,702.5 123.0,702.8 123.5,702.4 124.0,702.6 124.5,702.9 125.0,702.8 125.5,703.1 126.0,703.1 126.5,702.8 127.0,703.0 127.5,702.7 128.0,703.4 128.5,702.7 129.0,704.0 129.5,703.0 130.0,703.3 130.5,702.7 131.0,703.0 131.5,703.3 132.0,703.2 132.5,702.9 133.0,702.6 133.5,703.3 134.0,703.4 134.5,703.7 135.0,704.1 135.5,703.2 136.0,702.2 136.5,703.3 137.0,702.3 137.5,702.7 138.0,704.1 138.5,703.8 139.0,703.1 139.5,703.1 140.0,703.5 140.5,702.5 141.0,703.8 141.5,703.3 142.0,704.6 142.5,702.9 143.0,704.1 143.5,703.1 144.0,704.1 144.5,703.0 145.0,704.0 145.5,703.3 146.0,703.0 146.5,703.4 147.0,703.8 147.5,703.8 148.0,704.5 148.5,704.0 149.0,702.0 149.5,703.3 150.0,702.4 150.5,703.3 151.0,703.9 151.5,702.7 152.0,702.8 152.5,703.6 153.0,703.4 153.5,704.5 154.0,703.7 154.5,703.8 155.0,704.6 155.5,703.2 156.0,703.5 156.5,702.9 157.0,703.7 157.5,704.1 158.0,704.3 158.5,703.5 159.0,703.1 159.5,703.1 160.0,702.7 160.5,703.6 161.0,704.3 161.5,702.1 162.0,702.1 162.5,704.1 163.0,702.1 163.5,703.1 164.0,701.9 164.5,702.9 165.0,702.6 165.5,702.0 166.0,702.1 166.5,701.4 167.0,701.5 167.5,702.1 168.0,701.5 168.5,700.3 169.0,700.1 169.5,700.4 170.0,700.4 170.5,700.6 171.0,700.3 171.5,701.1 172.0,700.9 172.5,701.2 173.0,701.1 173.5,701.6 174.0,700.7 174.5,702.5 175.0,702.0 175.5,702.3 176.0,702.6 176.5,703.0 177.0,703.1 177.5,702.9 178.0,702.9 178.5,702.2 179.0,703.5 179.5,703.3 180.0,703.5 180.5,705.3 181.0,702.8 181.5,704.1 182.0,705.6 182.5,704.8 183.0,705.0 183.5,703.5 184.0,703.7 184.5,704.6 185.0,704.0 185.5,705.2 186.0,704.2 186.5,704.2 187.0,704.3 187.5,703.8 188.0,703.9 188.5,703.3 189.0,703.6 189.5,703.3 190.0,703.6 190.5,702.5 191.0,702.3 191.5,703.3 192.0,703.0 192.5,702.2 193.0,702.3 193.5,701.8 194.0,703.5 194.5,701.2 195.0,702.9 195.5,701.3 196.0,701.8 196.5,701.2 197.0,700.9 197.5,701.5 198.0,701.2 198.5,700.4 199.0,699.8 199.5,701.2 200.0,700.5 200.5,699.4 201.0,698.7 201.5,698.5 202.0,697.9 202.5,698.0 203.0,696.2 203.5,696.2 204.0,695.1 204.5,695.7 205.0,695.4 205.5,693.6 206.0,693.4 206.5,693.3 207.0,691.5 207.5,690.4 208.0,690.7 208.5,690.8 209.0,688.2 209.5,688.3 210.0,686.6 210.5,684.5 211.0,684.8 211.5,683.7 212.0,684.0 212.5,682.1 213.0,681.2 213.5,680.9 214.0,680.1 214.5,678.5 215.0,678.7 215.5,677.8 216.0,678.1 216.5,678.0 217.0,675.3 217.5,674.7 218.0,674.2 218.5,673.7 219.0,673.2 219.5,673.1 220.0,673.3 220.5,671.5 221.0,671.1 221.5,670.6 222.0,672.3 222.5,672.3 223.0,670.7 223.5,670.9 224.0,672.3 224.5,673.3 225.0,673.7 225.5,673.6 226.0,673.8 226.5,674.8 227.0,674.9 227.5,677.1 228.0,676.7 228.5,676.7 229.0,677.7 229.5,677.7 230.0,679.1 230.5,680.1 231.0,678.9 231.5,679.2 232.0,681.4 232.5,680.6 233.0,679.9 233.5,680.3 234.0,680.8 234.5,680.5 235.0,680.7 235.5,681.5 236.0,681.7 236.5,683.6 237.0,681.4 237.5,683.4 238.0,682.6 238.5,683.1 239.0,682.3 239.5,683.8 240.0,682.7 240.5,684.0 241.0,683.7 241.5,682.6 242.0,682.9 242.5,684.3 243.0,683.8 243.5,683.2 244.0,683.4 244.5,683.3 245.0,682.6 245.5,682.6 246.0,681.9 246.5,681.6 247.0,681.6 247.5,680.2 248.0,680.5 248.5,679.5 249.0,679.2 249.5,678.6 250.0,678.1 250.5,677.0 251.0,676.4 251.5,675.2 252.0,675.1 252.5,673.6 253.0,673.4 253.5,673.2 254.0,672.0 254.5,671.6 255.0,669.9 255.5,670.6 256.0,668.7 256.5,668.6 257.0,667.8 257.5,667.8 258.0,666.6 258.5,665.9 259.0,665.1 259.5,666.0 260.0,665.5 260.5,666.7 261.0,667.4 261.5,665.5 262.0,666.4 262.5,667.8 263.0,668.8 263.5,668.8 264.0,669.3 264.5,670.0 265.0,670.7 265.5,672.0 266.0,672.4 266.5,672.6 267.0,674.6 267.5,676.8 268.0,677.3 268.5,680.0 269.0,681.5 269.5,682.9 270.0,685.4 270.5,686.5 271.0,688.0 271.5,690.1 272.0,692.4 272.5,695.5 273.0,696.2 273.5,698.5 274.0,699.4 274.5,699.0 275.0,701.4 275.5,701.2 276.0,701.1 276.5,701.3 277.0,703.0 277.5,701.0 278.0,701.6 278.5,702.6 279.0,702.4 279.5,700.9 280.0,701.9 280.5,701.6 281.0,701.8 281.5,702.4 282.0,701.6 282.5,701.8 283.0,702.8 283.5,700.9 284.0,701.7 284.5,702.2 285.0,701.2 285.5,701.6 286.0,701.2 286.5,702.0 287.0,701.6 287.5,702.1 288.0,702.5 288.5,701.9 289.0,701.5 289.5,701.8 290.0,701.6 290.5,700.7 291.0,702.0 291.5,701.3 292.0,701.5 292.5,700.0 293.0,701.2 293.5,701.8 294.0,700.7 294.5,699.3 295.0,699.9 295.5,699.5 296.0,699.2 296.5,698.4 297.0,698.2 297.5,696.9 298.0,696.6 298.5,695.2 299.0,694.9 299.5,694.6 300.0,692.9 300.5,692.8 301.0,691.2 301.5,690.8 302.0,690.4 302.5,690.8 303.0,689.2 303.5,690.2 304.0,688.5 304.5,689.3 305.0,690.2 305.5,690.4 306.0,689.9 306.5,690.4 307.0,692.3 307.5,691.8 308.0,693.7 308.5,693.8 309.0,695.0 309.5,697.3 310.0,697.7 310.5,698.2 311.0,697.6 311.5,699.4 312.0,700.0 312.5,700.5 313.0,701.9 313.5,700.5 314.0,702.0 314.5,702.0 315.0,701.5 315.5,702.9 316.0,701.0 316.5,701.6 317.0,701.4 317.5,699.8 318.0,700.0 318.5,700.0 319.0,700.8 319.5,700.5 320.0,700.0 320.5,699.4 321.0,697.6 321.5,698.9 322.0,697.9 322.5,698.4 323.0,697.9 323.5,697.8 324.0,696.1 324.5,695.4 325.0,693.6 325.5,693.4 326.0,691.7 326.5,692.4 327.0,690.4 327.5,690.3 328.0,689.3 328.5,689.0 329.0,689.1 329.5,688.1 330.0,688.3 330.5,687.5 331.0,688.9 331.5,688.2 332.0,689.2 332.5,690.3 333.0,688.1 333.5,689.7 334.0,690.9 334.5,692.5 335.0,692.4 335.5,693.9 336.0,694.2 336.5,696.0 337.0,695.9 337.5,698.1 338.0,696.8 338.5,698.4 339.0,701.5 339.5,701.3 340.0,701.4 340.5,704.0 341.0,703.8 341.5,704.3 342.0,703.6 342.5,704.4 343.0,704.3 343.5,703.0 344.0,704.3 344.5,703.8 345.0,704.6 345.5,704.4 346.0,703.1 346.5,703.0 347.0,703.3 347.5,703.4 348.0,702.5 348.5,702.4 349.0,702.6 349.5,702.3 350.0,702.4 350.5,701.6 351.0,700.6 351.5,699.6 352.0,700.5 352.5,699.1 353.0,696.6 353.5,697.5 354.0,696.0 354.5,696.0 355.0,693.9 355.5,694.4 356.0,693.2 356.5,694.1 357.0,692.5 357.5,691.4 358.0,692.7 358.5,691.2 359.0,690.1 359.5,690.3 360.0,690.1 360.5,691.8 361.0,690.2 361.5,688.9 362.0,690.5 362.5,691.5 363.0,689.3 363.5,691.9 364.0,689.6 364.5,690.2 365.0,689.2 365.5,689.3 366.0,688.6 366.5,688.7 367.0,688.0 367.5,691.6 368.0,691.7 368.5,693.6 369.0,694.3 369.5,694.4 370.0,695.4 370.5,695.9 371.0,696.1 371.5,696.9 372.0,697.3 372.5,697.0 373.0,697.1 373.5,697.6 374.0,698.3 374.5,699.3 375.0,699.6 375.5,699.2 376.0,700.2 376.5,702.8 377.0,708.6 377.5,705.9 378.0,701.8 378.5,701.5 379.0,702.0 379.5,703.5 380.0,701.9 380.5,702.9 381.0,702.7 381.5,703.5 382.0,703.7 382.5,701.8 383.0,699.6 383.5,701.0 384.0,700.3 384.5,698.5 385.0,699.1 385.5,699.1 386.0,697.5 386.5,699.2 387.0,699.0 387.5,698.8 388.0,697.9 388.5,698.1 389.0,698.2 389.5,699.1 390.0,698.5 390.5,700.4 391.0,700.3 391.5,699.3 392.0,702.3 392.5,702.1 392.8,702.1" stroke="#30E030"/>
<path d="M416.9,705.8 417.4,705.1 417.9,706.3 418.4,705.7 418.9,706.3 419.4,704.7 419.9,706.4 420.4,705.4 420.9,704.1 421.4,705.8 421.9,705.1 422.4,704.7 422.9,705.1 423.4,704.0 423.9,705.5 424.4,705.0 424.9,704.9 425.4,705.9 425.9,705.0 426.4,704.4 426.9,703.8 427.4,703.8 427.9,703.9 428.4,702.1 428.9,701.0 429.4,701.4 429.9,700.0 430.4,699.0 430.9,699.2 431.4,695.8 431.9,695.1 432.4,692.1 432.9,691.3 433.4,690.1 433.9,688.8 434.4,685.9 434.9,685.9 435.4,684.8 435.9,683.1 436.4,683.6 436.9,681.0 437.4,679.6 437.9,679.6 438.4,677.7 438.9,679.6 439.4,679.4 439.9,679.3 440.4,681.1 440.9,682.6 441.4,685.1 441.9,685.3 442.4,686.6 442.9,687.7 443.4,690.3 443.9,691.3 444.4,694.1 444.9,696.3 445.4,697.7 445.9,699.1 446.4,701.8 446.9,702.0 447.4,702.8 447.9,703.5 448.4,702.2 448.9,702.6 449.4,704.9 449.9,704.7 450.4,702.9 450.9,703.5 451.4,703.4 451.9,703.0 452.4,703.6 452.9,703.8 453.4,703.8 453.9,704.0 454.4,702.3 454.9,702.0 455.4,702.9 455.9,701.6 456.4,701.9 456.9,700.7 457.4,699.0 457.9,699.5 458.4,697.9 458.9,698.1 459.4,698.2 459.9,698.3 460.4,696.7 460.9,696.9 461.4,696.4 461.9,696.4 462.4,694.1 462.9,695.2 463.4,695.4 463.9,695.3 464.4,694.4 464.9,695.2 465.4,695.3 465.9,694.7 466.4,694.5 466.9,694.5 467.4,693.3 467.9,695.7 468.4,696.1 468.9,693.6 469.4,695.0 469.9,695.4 470.4,696.7 470.9,696.5 471.4,696.9 471.9,697.3 472.4,697.5 472.9,697.6 473.4,697.2 473.9,697.7 474.4,698.8 474.9,699.0 475.4,698.9 475.9,699.3 476.4,700.8 476.9,700.2 477.4,701.0 477.9,701.2 478.4,701.3 478.9,701.4 479.4,702.4 479.9,702.7 480.4,704.1 480.9,703.2 481.4,704.0 481.9,705.0 482.4,704.7 482.9,705.3 483.4,705.6 483.9,704.2 484.4,705.1 484.9,704.8 485.4,706.4 485.9,705.6 486.4,706.0 486.9,706.9 487.4,705.7 487.9,706.1 488.4,706.3 488.9,706.0 489.4,707.0 489.9,706.8 490.4,707.0 490.9,706.5 491.4,706.3 491.9,706.3 492.4,706.4 492.9,705.7 493.4,706.9 493.9,707.2 494.4,706.8 494.9,706.5 495.4,706.8 495.9,707.0 496.4,707.0 496.9,707.9 497.4,706.3 497.9,707.0 498.4,707.2 498.9,706.9 499.4,706.7 499.9,706.2 500.4,706.4 500.9,707.2 501.4,707.6 501.9,706.3 502.4,707.0 502.9,707.0 503.4,707.3 503.9,706.8 504.4,706.9 504.9,707.2 505.4,705.9 505.9,706.6 506.4,705.5 506.9,705.3 507.4,706.0 507.9,705.6 508.4,706.8 508.9,707.0 509.4,706.2 509.9,706.3 510.4,706.2 510.9,706.2 511.4,706.4 511.9,706.5 512.4,706.0 512.9,705.8 513.4,705.9 513.9,706.7 514.4,706.0 514.9,707.1 515.4,706.0 515.9,707.0 516.4,705.4 516.9,705.7 517.4,706.4 517.9,706.4 518.4,706.0 518.9,707.3 519.4,706.2 519.9,706.3 520.4,705.8 520.9,707.1 521.4,706.6 521.9,706.4 522.4,705.1 522.9,706.3 523.4,704.4 523.9,706.4 524.4,706.7 524.9,705.7 525.4,706.3 525.9,706.6 526.4,706.2 526.9,705.9 527.4,705.5 527.9,705.7 528.4,705.4 528.9,704.9 529.4,706.2 529.9,705.4 530.4,706.1 530.9,705.3 531.4,704.2 531.9,706.8 532.4,705.9 532.9,705.2 533.4,705.7 533.9,706.2 534.4,705.9 534.9,705.6 535.4,706.5 535.9,706.0 536.4,705.8 536.9,706.2 537.4,706.0 537.9,705.7 538.4,706.1 538.9,705.1 539.4,707.0 539.9,705.1 540.4,706.1 540.9,706.3 541.4,706.4 541.9,706.3 542.4,706.9 542.9,705.4 543.4,706.0 543.9,706.1 544.4,705.6 544.9,705.3 545.4,706.3 545.9,704.9 546.4,704.8 546.9,704.8 547.4,704.7 547.9,704.7 548.4,704.4 548.9,705.5 549.4,704.7 549.9,705.0 550.4,705.5 550.9,704.0 551.4,705.2 551.9,703.5 552.4,703.7 552.9,702.8 553.4,701.9 553.9,700.2 554.4,701.6 554.9,699.0 555.4,697.4 555.9,696.6 556.4,693.9 556.9,692.6 557.4,689.6 557.9,685.3 558.4,680.5 558.9,675.8 559.4,669.4 559.9,664.8 560.4,658.8 560.9,652.1 561.4,645.9 561.9,638.6 562.4,633.3 562.9,626.6 563.4,619.2 563.9,615.7 564.4,612.5 564.9,608.3 565.4,605.1 565.9,604.5 566.4,606.2 566.9,607.9 567.4,607.8 567.9,610.4 568.4,613.1 568.9,618.1 569.4,623.8 569.9,629.1 570.4,633.9 570.9,640.9 571.4,645.2 571.9,650.8 572.4,656.9 572.9,661.6 573.4,667.2 573.9,673.3 574.4,676.9 574.9,681.5 575.4,684.4 575.9,686.8 576.4,688.7 576.9,690.9 577.4,691.6 577.9,693.6 578.4,694.2 578.9,695.0 579.4,693.6 579.9,692.7 580.4,691.6 580.9,691.3 581.4,690.5 581.9,690.0 582.4,687.6 582.9,685.4 583.4,683.6 583.9,681.4 584.4,679.7 584.9,676.8 585.4,675.4 585.9,673.8 586.4,673.1 586.9,671.1 587.4,669.6 587.9,668.6 588.4,665.8 588.9,665.5 589.4,663.6 589.9,661.6 590.4,661.6 590.9,658.8 591.4,657.8 591.9,657.6 592.4,657.0 592.9,655.9 593.4,654.0 593.9,654.3 594.4,653.7 594.9,654.4 595.4,652.8 595.9,651.2 596.4,649.7 596.9,650.0 597.4,648.9 597.9,649.8 598.4,650.1 598.9,649.9 599.4,650.6 599.9,650.7 600.4,651.0 600.9,653.0 601.4,653.6 601.9,654.7 602.4,656.1 602.9,658.4 603.4,660.2 603.9,662.0 604.4,663.9 604.9,664.9 605.4,665.6 605.9,669.1 606.4,670.3 606.9,672.0 607.4,674.3 607.9,674.8 608.4,677.7 608.9,680.0 609.4,683.3 609.9,684.1 610.4,686.7 610.9,689.8 611.4,691.4 611.9,692.9 612.4,696.2 612.9,696.1 613.4,698.7 613.9,699.7 614.4,701.2 614.9,701.8 615.4,702.7 615.9,704.1 616.4,703.2 616.9,705.9 617.4,706.1 617.9,707.3 618.4,706.7 618.9,706.6 619.4,707.2 619.9,707.7 620.4,705.6 620.9,706.9 621.4,707.1 621.9,705.8 622.4,706.0 622.9,706.8 623.4,705.9 623.9,706.0 624.4,707.4 624.9,705.8 625.4,705.8 625.9,704.9 626.4,705.6 626.9,705.5 627.4,706.6 627.9,706.9 628.4,705.4 628.9,707.3 629.4,706.6 629.9,706.0 630.4,706.7 630.9,706.6 631.4,706.1 631.9,705.6 632.4,706.1 632.9,706.6 633.4,706.4 633.9,706.1 634.4,707.1 634.9,705.9 635.4,707.0 635.9,706.2 636.4,706.5 636.9,705.7 637.4,706.3 637.9,705.8 638.4,705.2 638.9,706.2 639.4,706.1 639.9,706.5 640.4,706.2 640.9,705.4 641.4,705.5 641.9,704.4 642.4,705.1 642.9,706.5 643.4,706.6 643.9,706.1 644.4,705.8 644.9,705.9 645.4,705.8 645.9,704.4 646.4,704.9 646.9,706.1 647.4,706.0 647.9,705.4 648.4,705.1 648.9,705.0 649.4,704.9 649.9,704.7 650.4,704.1 650.9,705.3 651.4,705.4 651.9,705.1 652.4,706.2 652.9,705.6 653.4,704.8 653.9,705.5 654.4,704.3 654.9,705.8 655.4,705.4 655.9,705.1 656.4,705.5 656.9,706.1 657.4,704.9 657.9,704.6 658.4,706.5 658.9,705.2 659.4,706.1 659.9,704.8 660.4,705.5 660.9,704.9 661.4,705.6 661.9,704.9 662.4,704.9 662.9,706.2 663.4,705.5 663.9,704.1 664.4,705.2 664.9,704.8 665.4,704.7 665.9,705.1 666.4,705.1 666.9,705.5 667.4,705.0 667.9,704.4 668.4,705.2 668.9,706.1 669.4,704.8 669.8,706.0" stroke="#30E030"/>
<path d="M65.5,844.5 66.0,845.3 66.5,844.8 67.0,844.8 67.5,844.3 68.0,845.2 68.5,846.1 69.0,844.0 69.5,843.5 70.0,843.9 70.5,843.7 71.0,843.4 71.5,843.3 72.0,844.4 72.5,844.3 73.0,844.6 73.5,844.0 74.0,843.1 74.5,843.9 75.0,842.8 75.5,842.8 76.0,842.2 76.5,843.5 77.0,843.2 77.5,842.2 78.0,842.1 78.5,842.2 79.0,842.2 79.5,842.4 80.0,841.8 80.5,841.8 81.0,840.6 81.5,842.2 82.0,840.1 82.5,842.1 83.0,841.7 83.5,841.1 84.0,841.1 84.5,839.7 85.0,840.6 85.5,838.8 86.0,839.3 86.5,837.7 87.0,838.1 87.5,837.1 88.0,837.0 88.5,836.1 89.0,834.2 89.5,833.3 90.0,832.3 90.5,830.6 91.0,828.8 91.5,825.4 92.0,824.2 92.5,822.6 93.0,819.8 93.5,816.5 94.0,815.1 94.5,813.3 95.0,810.1 95.5,808.7 96.0,805.9 96.5,804.2 97.0,803.3 97.5,804.5 98.0,803.3 98.5,803.7 99.0,805.3 99.5,805.5 100.0,807.0 100.5,807.6 101.0,811.9 101.5,814.9 102.0,817.5 102.5,822.1 103.0,823.6 103.5,826.0 104.0,827.7 104.5,830.4 105.0,832.7 105.5,834.1 106.0,836.8 106.5,838.2 107.0,838.1 107.5,838.3 108.0,839.6 108.5,839.8 109.0,841.0 109.5,841.4 110.0,841.3 110.5,841.7 111.0,842.4 111.5,842.9 112.0,841.6 112.5,842.5 113.0,841.9 113.5,841.5 114.0,843.0 114.5,842.5 115.0,842.4 115.5,842.6 116.0,842.3 116.5,841.8 117.0,843.5 117.5,843.0 118.0,842.7 118.5,843.1 119.0,843.4 119.5,842.5 120.0,843.0 120.5,842.5 121.0,843.1 121.5,842.6 122.0,844.2 122.5,842.6 123.0,843.1 123.5,843.1 124.0,842.7 124.5,843.5 125.0,842.9 125.5,842.7 126.0,843.0 126.5,842.6 127.0,843.8 127.5,843.5 128.0,843.8 128.5,842.4 129.0,842.7 129.5,842.9 130.0,843.4 130.5,844.2 131.0,843.6 131.5,843.4 132.0,844.2 132.5,844.2 133.0,844.7 133.5,842.6 134.0,843.9 134.5,843.5 135.0,843.3 135.5,843.9 136.0,843.2 136.5,842.6 137.0,843.4 137.5,843.8 138.0,845.1 138.5,843.6 139.0,843.4 139.5,842.9 140.0,843.9 140.5,844.0 141.0,844.2 141.5,843.3 142.0,843.7 142.5,842.8 143.0,844.3 143.5,843.2 144.0,842.5 144.5,844.9 145.0,844.5 145.5,844.4 146.0,844.4 146.5,842.9 147.0,844.8 147.5,843.6 148.0,845.3 148.5,844.3 149.0,843.1 149.5,844.7 150.0,845.3 150.5,844.0 151.0,844.8 151.5,844.0 152.0,843.8 152.5,842.6 153.0,844.9 153.5,843.9 154.0,844.4 154.5,843.5 155.0,843.6 155.5,844.8 156.0,843.9 156.5,843.9 157.0,843.4 157.5,844.3 158.0,844.6 158.5,843.9 159.0,844.1 159.5,843.5 160.0,845.0 160.5,843.8 161.0,844.1 161.5,845.1 162.0,843.9 162.5,842.9 163.0,843.1 163.5,843.2 164.0,844.3 164.5,843.1 165.0,842.6 165.5,843.0 166.0,843.0 166.5,841.6 167.0,842.7 167.5,842.3 168.0,842.0 168.5,840.3 169.0,841.9 169.5,843.6 170.0,841.8 170.5,843.6 171.0,842.5 171.5,842.1 172.0,843.3 172.5,843.5 173.0,844.1 173.5,843.8 174.0,845.0 174.5,844.2 175.0,844.9 175.5,844.4 176.0,844.9 176.5,845.7 177.0,845.4 177.5,845.6 178.0,845.8 178.5,846.1 179.0,846.4 179.5,846.1 180.0,846.6 180.5,846.1 181.0,845.6 181.5,844.9 182.0,843.8 182.5,845.3 183.0,844.7 183.5,846.7 184.0,844.6 184.5,845.9 185.0,845.9 185.5,845.4 186.0,847.0 186.5,845.4 187.0,844.9 187.5,846.3 188.0,844.7 188.5,844.2 189.0,844.4 189.5,844.6 190.0,844.9 190.5,845.0 191.0,843.8 191.5,844.8 192.0,845.8 192.5,844.0 193.0,844.2 193.5,844.6 194.0,844.8 194.5,843.5 195.0,843.2 195.5,843.0 196.0,844.1 196.5,843.7 197.0,841.6 197.5,841.4 198.0,841.7 198.5,841.2 199.0,842.1 199.5,841.6 200.0,842.4 200.5,841.3 201.0,840.6 201.5,840.8 202.0,839.1 202.5,838.3 203.0,838.5 203.5,838.5 204.0,836.2 204.5,837.0 205.0,836.3 205.5,834.7 206.0,834.3 206.5,833.2 207.0,832.6 207.5,832.2 208.0,830.5 208.5,830.8 209.0,829.9 209.5,829.2 210.0,826.8 210.5,826.2 211.0,827.1 211.5,825.8 212.0,825.1 212.5,824.4 213.0,823.4 213.5,823.3 214.0,822.4 214.5,821.8 215.0,821.9 215.5,820.3 216.0,821.2 216.5,818.7 217.0,821.1 217.5,818.5 218.0,819.5 218.5,819.5 219.0,819.0 219.5,819.5 220.0,819.0 220.5,818.1 221.0,819.5 221.5,820.1 222.0,819.2 222.5,818.7 223.0,820.0 223.5,821.3 224.0,822.1 224.5,823.5 225.0,824.0 225.5,824.7 226.0,823.7 226.5,826.6 227.0,825.3 227.5,825.6 228.0,824.6 228.5,824.3 229.0,824.0 229.5,824.5 230.0,824.0 230.5,823.1 231.0,823.6 231.5,821.9 232.0,822.4 232.5,821.8 233.0,823.0 233.5,822.4 234.0,823.2 234.5,824.0 235.0,822.0 235.5,824.9 236.0,824.1 236.5,824.1 237.0,823.6 237.5,825.0 238.0,824.2 238.5,826.0 239.0,826.3 239.5,827.8 240.0,826.9 240.5,828.0 241.0,828.3 241.5,829.0 242.0,827.8 242.5,828.4 243.0,827.1 243.5,827.2 244.0,827.5 244.5,827.4 245.0,826.3 245.5,826.4 246.0,826.6 246.5,825.5 247.0,825.1 247.5,824.1 248.0,825.0 248.5,824.6 249.0,823.1 249.5,822.4 250.0,822.8 250.5,821.3 251.0,819.7 251.5,818.3 252.0,817.7 252.5,818.3 253.0,815.5 253.5,816.6 254.0,813.8 254.5,812.7 255.0,812.8 255.5,811.1 256.0,810.8 256.5,809.5 257.0,809.2 257.5,809.5 258.0,810.1 258.5,809.8 259.0,809.2 259.5,811.0 260.0,811.1 260.5,811.4 261.0,811.7 261.5,811.3 262.0,814.2 262.5,813.6 263.0,814.9 263.5,816.4 264.0,817.6 264.5,818.6 265.0,820.3 265.5,822.3 266.0,824.6 266.5,826.3 267.0,827.4 267.5,829.6 268.0,830.9 268.5,832.4 269.0,833.5 269.5,835.6 270.0,836.2 270.5,838.0 271.0,838.8 271.5,839.7 272.0,840.6 272.5,842.1 273.0,843.4 273.5,844.5 274.0,844.2 274.5,844.2 275.0,844.2 275.5,845.3 276.0,844.5 276.5,844.0 277.0,844.7 277.5,843.4 278.0,844.1 278.5,843.9 279.0,843.7 279.5,842.9 280.0,844.0 280.5,844.3 281.0,842.3 281.5,842.9 282.0,843.1 282.5,843.9 283.0,842.0 283.5,841.5 284.0,841.9 284.5,842.9 285.0,841.6 285.5,841.5 286.0,842.2 286.5,839.6 287.0,839.3 287.5,840.9 288.0,840.6 288.5,839.0 289.0,839.9 289.5,839.3 290.0,839.0 290.5,838.0 291.0,837.9 291.5,837.2 292.0,837.3 292.5,836.5 293.0,836.8 293.5,835.1 294.0,832.5 294.5,832.4 295.0,831.7 295.5,829.7 296.0,829.0 296.5,827.3 297.0,826.9 297.5,825.5 298.0,825.1 298.5,825.3 299.0,827.5 299.5,826.6 300.0,827.3 300.5,830.1 301.0,831.1 301.5,832.8 302.0,834.5 302.5,835.8 303.0,836.9 303.5,839.0 304.0,840.5 304.5,841.9 305.0,843.9 305.5,843.1 306.0,844.2 306.5,844.8 307.0,844.2 307.5,843.8 308.0,844.1 308.5,845.1 309.0,844.2 309.5,844.7 310.0,843.8 310.5,845.4 311.0,843.6 311.5,843.4 312.0,843.9 312.5,843.8 313.0,844.5 313.5,842.5 314.0,843.6 314.5,844.2 315.0,843.9 315.5,842.6 316.0,842.3 316.5,842.1 317.0,842.2 317.5,841.6 318.0,841.1 318.5,840.5 319.0,838.6 319.5,837.7 320.0,836.6 320.5,835.6 321.0,835.3 321.5,834.5 322.0,834.9 322.5,832.7 323.0,831.4 323.5,831.4 324.0,829.3 324.5,829.3 325.0,829.0 325.5,828.5 326.0,827.9 326.5,827.3 327.0,826.8 327.5,827.6 328.0,827.7 328.5,829.0 329.0,829.1 329.5,830.3 330.0,829.8 330.5,832.3 331.0,832.2 331.5,832.7 332.0,833.9 332.5,835.4 333.0,837.5 333.5,838.2 334.0,838.0 334.5,839.7 335.0,840.4 335.5,840.2 336.0,841.2 336.5,840.2 337.0,842.1 337.5,842.4 338.0,842.4 338.5,842.5 339.0,842.7 339.5,842.8 340.0,844.1 340.5,843.3 341.0,843.7 341.5,844.1 342.0,844.3 342.5,844.2 343.0,843.5 343.5,843.3 344.0,843.5 344.5,843.7 345.0,844.0 345.5,843.9 346.0,844.5 346.5,843.5 347.0,844.3 347.5,843.4 348.0,841.8 348.5,842.0 349.0,839.0 349.5,840.8 350.0,839.4 350.5,838.5 351.0,836.4 351.5,838.1 352.0,835.5 352.5,834.7 353.0,834.7 353.5,833.1 354.0,832.0 354.5,832.3 355.0,830.8 355.5,831.4 356.0,830.7 356.5,831.0 357.0,830.7 357.5,830.6 358.0,829.8 358.5,830.6 359.0,828.9 359.5,830.4 360.0,829.8 360.5,829.9 361.0,829.1 361.5,830.0 362.0,830.2 362.5,829.5 363.0,829.5 363.5,830.0 364.0,831.8 364.5,831.6 365.0,832.6 365.5,832.9 366.0,833.4 366.5,834.2 367.0,834.4 367.5,836.0 368.0,835.9 368.5,836.4 369.0,835.8 369.5,837.1 370.0,836.7 370.5,837.0 371.0,838.3 371.5,837.4 372.0,838.6 372.5,841.5 373.0,840.3 373.5,839.3 374.0,839.9 374.5,840.0 375.0,839.3 375.5,838.7 376.0,838.8 376.5,840.4 377.0,842.6 377.5,838.4 378.0,837.8 378.5,837.4 379.0,836.8 379.5,836.5 380.0,837.4 380.5,835.2 381.0,835.4 381.5,834.6 382.0,834.5 382.5,834.3 383.0,834.7 383.5,834.5 384.0,835.5 384.5,835.8 385.0,835.6 385.5,837.7 386.0,836.4 386.5,837.8 387.0,839.7 387.5,838.9 388.0,841.7 388.5,842.3 389.0,842.6 389.5,842.3 390.0,845.3 390.5,845.6 391.0,846.0 391.5,847.5 392.0,846.1 392.5,846.7 392.6,845.6" stroke="#E02020"/>
<path d="M416.9,845.6 417.4,845.1 417.9,844.2 418.4,844.4 418.9,842.7 419.4,842.9 419.9,842.6 420.4,842.6 420.9,841.0 421.4,841.2 421.9,841.8 422.4,842.4 422.9,842.8 423.4,843.1 423.9,844.4 424.4,843.9 424.9,844.0 425.4,843.5 425.9,844.2 426.4,843.9 426.9,843.3 427.4,842.0 427.9,841.4 428.4,840.7 428.9,838.1 429.4,835.9 429.9,835.5 430.4,832.6 430.9,829.0 431.4,825.7 431.9,824.6 432.4,820.2 432.9,817.8 433.4,816.2 433.9,814.8 434.4,812.5 434.9,811.4 435.4,811.2 435.9,809.7 436.4,811.8 436.9,812.7 437.4,813.2 437.9,815.2 438.4,815.9 438.9,819.1 439.4,820.6 439.9,823.9 440.4,826.1 440.9,829.7 441.4,831.6 441.9,835.0 442.4,835.7 442.9,837.6 443.4,837.8 443.9,839.5 444.4,841.3 444.9,841.6 445.4,843.9 445.9,843.4 446.4,843.9 446.9,843.9 447.4,843.5 447.9,843.8 448.4,842.7 448.9,843.5 449.4,843.1 449.9,842.1 450.4,841.7 450.9,840.9 451.4,840.7 451.9,840.7 452.4,839.7 452.9,838.4 453.4,839.1 453.9,839.0 454.4,838.4 454.9,837.6 455.4,838.0 455.9,835.8 456.4,835.4 456.9,835.7 457.4,834.2 457.9,833.7 458.4,833.7 458.9,832.6 459.4,833.1 459.9,833.1 460.4,832.0 460.9,830.8 461.4,831.8 461.9,830.6 462.4,831.1 462.9,831.5 463.4,830.8 463.9,830.4 464.4,832.2 464.9,831.8 465.4,831.6 465.9,831.9 466.4,833.1 466.9,832.9 467.4,833.0 467.9,833.3 468.4,834.1 468.9,834.4 469.4,834.5 469.9,834.2 470.4,835.2 470.9,835.6 471.4,836.5 471.9,837.7 472.4,838.2 472.9,838.6 473.4,838.8 473.9,839.1 474.4,840.1 474.9,840.1 475.4,840.7 475.9,840.8 476.4,841.6 476.9,841.9 477.4,843.4 477.9,843.0 478.4,842.8 478.9,843.8 479.4,843.4 479.9,844.6 480.4,844.8 480.9,846.3 481.4,844.3 481.9,845.1 482.4,845.3 482.9,845.8 483.4,845.5 483.9,845.3 484.4,845.6 484.9,846.2 485.4,846.6 485.9,843.6 486.4,845.2 486.9,846.7 487.4,846.6 487.9,846.7 488.4,845.5 488.9,846.0 489.4,846.2 489.9,846.3 490.4,846.4 490.9,846.1 491.4,846.7 491.9,845.8 492.4,845.8 492.9,845.8 493.4,845.8 493.9,846.2 494.4,845.3 494.9,844.2 495.4,846.9 495.9,846.3 496.4,845.9 496.9,846.8 497.4,845.8 497.9,846.1 498.4,846.0 498.9,845.8 499.4,845.9 499.9,846.1 500.4,845.3 500.9,845.9 501.4,845.9 501.9,846.2 502.4,846.2 502.9,847.4 503.4,846.5 503.9,846.0 504.4,846.0 504.9,846.1 505.4,844.1 505.9,845.9 506.4,846.9 506.9,845.5 507.4,846.4 507.9,846.4 508.4,845.4 508.9,846.4 509.4,846.4 509.9,845.7 510.4,847.4 510.9,846.5 511.4,845.9 511.9,845.8 512.4,845.6 512.9,846.2 513.4,845.8 513.9,845.2 514.4,845.4 514.9,845.6 515.4,845.8 515.9,845.8 516.4,845.6 516.9,846.3 517.4,846.5 517.9,846.0 518.4,844.7 518.9,845.8 519.4,846.2 519.9,845.8 520.4,846.0 520.9,845.9 521.4,845.0 521.9,844.4 522.4,846.1 522.9,846.9 523.4,846.0 523.9,845.6 524.4,845.6 524.9,846.5 525.4,845.0 525.9,845.6 526.4,845.0 526.9,845.6 527.4,845.8 527.9,845.9 528.4,845.6 528.9,844.7 529.4,845.6 529.9,846.0 530.4,846.0 530.9,846.6 531.4,843.0 531.9,844.8 532.4,845.0 532.9,845.3 533.4,845.8 533.9,844.6 534.4,845.7 534.9,845.5 535.4,844.6 535.9,845.3 536.4,844.5 536.9,844.9 537.4,844.6 537.9,844.9 538.4,844.0 538.9,844.9 539.4,843.3 539.9,844.2 540.4,844.0 540.9,845.0 541.4,844.1 541.9,843.3 542.4,842.8 542.9,843.0 543.4,842.4 543.9,843.8 544.4,840.8 544.9,842.3 545.4,840.9 545.9,842.9 546.4,842.0 546.9,843.4 547.4,842.3 547.9,843.3 548.4,842.9 548.9,843.5 549.4,842.9 549.9,841.2 550.4,842.4 550.9,841.7 551.4,843.2 551.9,842.2 552.4,841.2 552.9,839.8 553.4,837.4 553.9,834.3 554.4,832.2 554.9,826.7 555.4,821.2 555.9,814.8 556.4,808.5 556.9,801.4 557.4,794.2 557.9,787.3 558.4,780.8 558.9,773.7 559.4,768.0 559.9,760.5 560.4,754.6 560.9,749.6 561.4,746.5 561.9,743.2 562.4,742.6 562.9,744.0 563.4,747.8 563.9,753.5 564.4,760.9 564.9,767.0 565.4,774.3 565.9,781.2 566.4,787.9 566.9,794.3 567.4,801.4 567.9,807.1 568.4,815.3 568.9,819.6 569.4,826.3 569.9,831.9 570.4,835.9 570.9,837.5 571.4,838.9 571.9,840.3 572.4,840.4 572.9,841.6 573.4,842.6 573.9,841.6 574.4,841.6 574.9,842.1 575.4,843.6 575.9,843.6 576.4,842.3 576.9,841.8 577.4,840.8 577.9,839.9 578.4,836.9 578.9,836.3 579.4,835.1 579.9,833.0 580.4,832.1 580.9,830.1 581.4,828.6 581.9,825.2 582.4,826.5 582.9,823.2 583.4,821.2 583.9,818.3 584.4,816.9 584.9,815.8 585.4,813.9 585.9,811.1 586.4,808.5 586.9,807.5 587.4,805.5 587.9,804.6 588.4,801.9 588.9,801.3 589.4,800.5 589.9,799.1 590.4,799.0 590.9,796.9 591.4,796.1 591.9,795.9 592.4,795.9 592.9,794.5 593.4,793.6 593.9,793.6 594.4,792.2 594.9,791.5 595.4,791.4 595.9,790.8 596.4,791.1 596.9,790.8 597.4,789.8 597.9,791.4 598.4,792.1 598.9,793.4 599.4,794.3 599.9,794.6 600.4,796.3 600.9,798.2 601.4,800.3 601.9,801.7 602.4,804.6 602.9,805.4 603.4,808.2 603.9,809.0 604.4,810.6 604.9,813.3 605.4,815.6 605.9,817.6 606.4,819.6 606.9,821.3 607.4,823.2 607.9,825.7 608.4,828.3 608.9,830.7 609.4,830.2 609.9,834.1 610.4,835.7 610.9,837.2 611.4,838.0 611.9,839.3 612.4,839.7 612.9,840.8 613.4,841.7 613.9,841.2 614.4,841.7 614.9,842.5 615.4,841.9 615.9,842.9 616.4,842.2 616.9,843.3 617.4,843.3 617.9,843.0 618.4,842.9 618.9,843.1 619.4,842.1 619.9,843.2 620.4,843.5 620.9,844.1 621.4,843.1 621.9,843.3 622.4,844.2 622.9,844.4 623.4,843.1 623.9,844.0 624.4,844.1 624.9,843.0 625.4,842.8 625.9,842.9 626.4,843.8 626.9,844.9 627.4,843.5 627.9,844.6 628.4,844.9 628.9,843.2 629.4,843.6 629.9,844.8 630.4,844.6 630.9,844.3 631.4,844.0 631.9,844.4 632.4,843.7 632.9,845.5 633.4,843.5 633.9,843.1 634.4,844.2 634.9,845.0 635.4,843.9 635.9,844.2 636.4,843.6 636.9,844.2 637.4,843.6 637.9,843.7 638.4,843.4 638.9,842.7 639.4,845.3 639.9,844.3 640.4,844.4 640.9,845.6 641.4,844.0 641.9,843.8 642.4,844.6 642.9,843.6 643.4,844.5 643.9,845.0 644.4,843.7 644.9,844.1 645.4,845.3 645.9,843.8 646.4,844.0 646.9,844.5 647.4,843.8 647.9,843.9 648.4,845.3 648.9,844.1 649.4,844.6 649.9,845.3 650.4,844.3 650.9,843.6 651.4,844.9 651.9,844.1 652.4,845.1 652.9,843.7 653.4,844.1 653.9,844.6 654.4,844.4 654.9,844.0 655.4,844.2 655.9,843.6 656.4,844.3 656.9,842.8 657.4,844.4 657.9,845.0 658.4,844.7 658.9,844.7 659.4,843.9 659.9,844.4 660.4,843.9 660.9,844.1 661.4,844.0 661.9,842.1 662.4,844.6 662.9,844.3 663.4,844.5 663.9,843.4 664.4,844.3 664.9,844.2 665.4,842.6 665.9,842.8 666.4,843.8 666.9,843.4 667.4,843.7 667.9,843.4 668.4,844.5 668.9,842.6 669.4,842.8 669.8,843.0" stroke="#E02020"/>
<path d="M65.5,964.1 66.0,965.6 66.5,965.8 67.0,964.3 67.5,966.8 68.0,966.1 68.5,968.0 69.0,967.7 69.5,966.4 70.0,966.6 70.5,963.8 71.0,965.8 71.5,967.5 72.0,966.7 72.5,966.7 73.0,966.9 73.5,967.5 74.0,967.7 74.5,967.0 75.0,966.9 75.5,967.1 76.0,968.5 76.5,965.3 77.0,965.9 77.5,967.4 78.0,966.6 78.5,967.2 79.0,967.0 79.5,967.2 80.0,964.8 80.5,965.6 81.0,964.6 81.5,965.1 82.0,964.1 82.5,963.8 83.0,961.7 83.5,961.2 84.0,959.5 84.5,958.4 85.0,956.7 85.5,955.5 86.0,954.1 86.5,950.4 87.0,947.2 87.5,942.8 88.0,941.7 88.5,943.6 89.0,945.2 89.5,946.7 90.0,946.3 90.5,944.3 91.0,941.7 91.5,938.6 92.0,935.6 92.5,932.0 93.0,930.3 93.5,926.6 94.0,925.6 94.5,927.1 95.0,929.4 95.5,934.1 96.0,938.7 96.5,947.5 97.0,951.8 97.5,955.1 98.0,958.0 98.5,959.8 99.0,961.0 99.5,964.3 100.0,963.2 100.5,965.6 101.0,965.6 101.5,965.9 102.0,966.3 102.5,966.7 103.0,967.7 103.5,964.6 104.0,967.2 104.5,966.3 105.0,966.1 105.5,968.8 106.0,966.7 106.5,966.2 107.0,968.2 107.5,966.2 108.0,967.9 108.5,968.0 109.0,967.5 109.5,968.0 110.0,966.2 110.5,966.2 111.0,967.0 111.5,967.0 112.0,966.9 112.5,967.3 113.0,966.3 113.5,965.2 114.0,967.1 114.5,966.5 115.0,967.2 115.5,968.1 116.0,966.6 116.5,966.9 117.0,965.7 117.5,967.0 118.0,966.6 118.5,966.4 119.0,966.9 119.5,965.3 120.0,966.6 120.5,966.4 121.0,967.3 121.5,964.7 122.0,966.0 122.5,968.8 123.0,965.7 123.5,965.7 124.0,967.4 124.5,967.9 125.0,966.2 125.5,965.6 126.0,965.7 126.5,965.9 127.0,965.7 127.5,965.7 128.0,966.6 128.5,966.5 129.0,966.9 129.5,966.7 130.0,965.8 130.5,967.4 131.0,967.1 131.5,966.6 132.0,966.9 132.5,967.5 133.0,967.4 133.5,967.3 134.0,968.1 134.5,968.4 135.0,967.4 135.5,967.8 136.0,967.0 136.5,967.8 137.0,968.4 137.5,968.7 138.0,966.9 138.5,968.2 139.0,967.7 139.5,968.5 140.0,967.6 140.5,968.5 141.0,968.5 141.5,967.8 142.0,968.7 142.5,968.4 143.0,969.0 143.5,968.2 144.0,969.0 144.5,969.8 145.0,968.8 145.5,969.3 146.0,968.3 146.5,968.5 147.0,967.4 147.5,968.7 148.0,968.0 148.5,969.0 149.0,967.3 149.5,968.3 150.0,969.0 150.5,969.3 151.0,967.7 151.5,968.7 152.0,970.9 152.5,969.6 153.0,969.2 153.5,967.0 154.0,968.4 154.5,969.5 155.0,969.3 155.5,969.5 156.0,969.9 156.5,969.2 157.0,969.8 157.5,967.8 158.0,971.1 158.5,969.0 159.0,968.7 159.5,970.3 160.0,969.7 160.5,969.9 161.0,968.7 161.5,969.4 162.0,969.7 162.5,968.3 163.0,969.0 163.5,969.0 164.0,968.9 164.5,968.6 165.0,968.2 165.5,969.4 166.0,969.3 166.5,969.9 167.0,969.9 167.5,968.5 168.0,967.9 168.5,969.0 169.0,968.7 169.5,970.4 170.0,970.6 170.5,970.0 171.0,968.1 171.5,967.7 172.0,968.6 172.5,968.0 173.0,969.7 173.5,968.7 174.0,968.3 174.5,967.8 175.0,969.4 175.5,967.7 176.0,968.6 176.5,967.3 177.0,968.1 177.5,967.7 178.0,968.4 178.5,968.3 179.0,969.0 179.5,968.6 180.0,967.5 180.5,967.0 181.0,967.3 181.5,967.5 182.0,967.6 182.5,967.1 183.0,968.5 183.5,968.3 184.0,967.3 184.5,967.0 185.0,967.1 185.5,967.2 186.0,967.1 186.5,965.8 187.0,966.6 187.5,965.2 188.0,966.7 188.5,967.1 189.0,965.7 189.5,966.5 190.0,965.8 190.5,965.6 191.0,967.5 191.5,966.5 192.0,966.1 192.5,963.1 193.0,965.8 193.5,965.3 194.0,965.6 194.5,964.5 195.0,965.0 195.5,964.7 196.0,963.8 196.5,966.0 197.0,965.3 197.5,964.0 198.0,963.3 198.5,963.8 199.0,963.6 199.5,963.6 200.0,962.7 200.5,963.1 201.0,963.5 201.5,963.6 202.0,961.6 202.5,966.2 203.0,961.5 203.5,960.8 204.0,960.4 204.5,959.1 205.0,959.0 205.5,957.7 206.0,955.7 206.5,954.2 207.0,954.8 207.5,951.8 208.0,951.6 208.5,950.3 209.0,950.4 209.5,950.0 210.0,947.7 210.5,948.9 211.0,947.2 211.5,948.2 212.0,947.2 212.5,948.0 213.0,948.1 213.5,948.9 214.0,950.3 214.5,949.4 215.0,950.5 215.5,951.6 216.0,951.3 216.5,953.6 217.0,951.1 217.5,954.2 218.0,951.5 218.5,952.1 219.0,951.8 219.5,949.9 220.0,947.3 220.5,946.9 221.0,946.0 221.5,945.3 222.0,944.7 222.5,944.0 223.0,943.4 223.5,940.7 224.0,941.3 224.5,938.4 225.0,939.2 225.5,937.7 226.0,936.8 226.5,938.7 227.0,938.3 227.5,939.9 228.0,939.2 228.5,940.7 229.0,942.6 229.5,943.2 230.0,944.9 230.5,945.5 231.0,946.9 231.5,947.4 232.0,950.3 232.5,950.1 233.0,950.1 233.5,952.0 234.0,952.3 234.5,952.6 235.0,953.1 235.5,953.0 236.0,953.7 236.5,952.5 237.0,953.4 237.5,954.0 238.0,955.5 238.5,956.5 239.0,955.8 239.5,956.0 240.0,957.3 240.5,956.4 241.0,957.4 241.5,957.4 242.0,956.2 242.5,956.6 243.0,957.6 243.5,956.6 244.0,956.7 244.5,956.5 245.0,958.3 245.5,958.6 246.0,957.2 246.5,957.4 247.0,954.7 247.5,956.2 248.0,956.0 248.5,955.1 249.0,952.4 249.5,953.2 250.0,951.2 250.5,950.7 251.0,947.8 251.5,946.4 252.0,944.0 252.5,942.7 253.0,940.2 253.5,939.1 254.0,937.0 254.5,934.9 255.0,933.0 255.5,930.8 256.0,929.6 256.5,928.4 257.0,926.3 257.5,925.1 258.0,923.8 258.5,923.3 259.0,922.9 259.5,924.5 260.0,925.9 260.5,927.6 261.0,928.2 261.5,932.3 262.0,932.7 262.5,937.9 263.0,941.3 263.5,945.5 264.0,949.9 264.5,950.7 265.0,954.6 265.5,954.8 266.0,955.5 266.5,957.2 267.0,958.9 267.5,959.0 268.0,958.8 268.5,959.5 269.0,960.1 269.5,961.1 270.0,959.4 270.5,960.6 271.0,960.3 271.5,959.4 272.0,959.0 272.5,960.5 273.0,959.5 273.5,958.7 274.0,958.5 274.5,958.7 275.0,957.5 275.5,958.2 276.0,956.2 276.5,955.3 277.0,955.3 277.5,954.2 278.0,954.1 278.5,954.9 279.0,954.7 279.5,953.8 280.0,953.2 280.5,952.1 281.0,952.0 281.5,953.0 282.0,952.9 282.5,952.5 283.0,952.8 283.5,954.6 284.0,954.4 284.5,954.1 285.0,954.6 285.5,955.8 286.0,955.6 286.5,956.0 287.0,955.1 287.5,955.5 288.0,955.9 288.5,956.2 289.0,958.4 289.5,959.1 290.0,958.7 290.5,960.2 291.0,960.6 291.5,960.6 292.0,959.9 292.5,962.4 293.0,962.6 293.5,961.4 294.0,963.4 294.5,962.0 295.0,961.4 295.5,961.7 296.0,960.5 296.5,961.6 297.0,960.6 297.5,962.7 298.0,961.9 298.5,960.5 299.0,961.9 299.5,960.1 300.0,961.4 300.5,961.5 301.0,961.0 301.5,960.6 302.0,960.6 302.5,960.3 303.0,960.3 303.5,961.2 304.0,961.2 304.5,960.9 305.0,959.0 305.5,958.6 306.0,958.8 306.5,958.6 307.0,956.0 307.5,956.3 308.0,957.2 308.5,954.0 309.0,953.5 309.5,952.6 310.0,952.7 310.5,951.5 311.0,950.6 311.5,949.2 312.0,950.5 312.5,949.8 313.0,949.1 313.5,949.4 314.0,949.8 314.5,948.0 315.0,947.8 315.5,948.1 316.0,948.1 316.5,946.3 317.0,948.1 317.5,949.3 318.0,948.1 318.5,949.0 319.0,945.9 319.5,947.9 320.0,948.9 320.5,948.8 321.0,947.1 321.5,946.6 322.0,947.1 322.5,945.4 323.0,945.5 323.5,944.0 324.0,944.6 324.5,943.8 325.0,944.4 325.5,942.8 326.0,941.4 326.5,941.4 327.0,940.1 327.5,940.8 328.0,940.5 328.5,941.1 329.0,941.6 329.5,939.6 330.0,941.7 330.5,942.4 331.0,941.3 331.5,944.2 332.0,942.8 332.5,945.8 333.0,945.1 333.5,946.4 334.0,946.0 334.5,946.3 335.0,946.4 335.5,947.2 336.0,947.0 336.5,949.6 337.0,949.2 337.5,950.9 338.0,951.3 338.5,950.3 339.0,952.3 339.5,952.3 340.0,952.5 340.5,952.9 341.0,952.7 341.5,952.7 342.0,953.5 342.5,951.9 343.0,951.7 343.5,951.9 344.0,951.1 344.5,952.1 345.0,953.7 345.5,949.7 346.0,951.4 346.5,951.4 347.0,951.8 347.5,952.4 348.0,951.0 348.5,950.2 349.0,951.4 349.5,951.7 350.0,948.4 350.5,950.5 351.0,950.1 351.5,948.8 352.0,948.5 352.5,948.4 353.0,947.5 353.5,946.5 354.0,945.0 354.5,945.3 355.0,943.9 355.5,943.8 356.0,942.7 356.5,942.9 357.0,943.0 357.5,942.6 358.0,943.0 358.5,941.8 359.0,943.6 359.5,943.9 360.0,943.8 360.5,944.7 361.0,943.2 361.5,945.8 362.0,946.0 362.5,945.1 363.0,947.8 363.5,945.9 364.0,948.9 364.5,949.1 365.0,950.2 365.5,950.5 366.0,950.8 366.5,951.9 367.0,952.6 367.5,950.7 368.0,952.8 368.5,952.7 369.0,952.6 369.5,954.9 370.0,955.0 370.5,954.1 371.0,954.7 371.5,956.9 372.0,956.5 372.5,957.3 373.0,956.5 373.5,958.1 374.0,959.3 374.5,958.1 375.0,958.5 375.5,960.1 376.0,959.7 376.5,960.5 377.0,965.1 377.5,960.9 378.0,958.9 378.5,959.9 379.0,959.7 379.5,963.0 380.0,961.8 380.5,961.6 381.0,961.0 381.5,960.5 382.0,958.7 382.5,962.1 383.0,959.9 383.5,959.7 384.0,958.4 384.5,959.5 385.0,959.9 385.5,959.6 386.0,960.2 386.5,959.2 387.0,960.3 387.5,960.8 388.0,960.6 388.5,960.5 389.0,960.1 389.5,959.4 390.0,960.6 390.5,959.9 391.0,959.5 391.5,960.8 392.0,959.0 392.5,959.3 392.6,960.8" stroke="#101010"/>
<path d="M403.8,967.0 404.3,966.3 404.8,967.2 405.3,965.9 405.8,965.7 406.3,965.5 406.8,963.8 407.3,965.3 407.8,963.7 408.3,964.0 408.8,965.8 409.3,962.7 409.8,963.5 410.3,963.3 410.8,962.8 411.3,962.4 411.8,961.6 412.3,963.2 412.8,959.8 413.3,960.1 413.8,961.5 414.3,960.3 414.8,958.7 415.3,958.0 415.8,957.4 416.3,958.3 416.8,955.3 417.3,952.8 417.8,952.7 418.3,951.4 418.8,952.9 419.3,952.3 419.8,953.4 420.3,953.0 420.8,955.0 421.3,954.2 421.8,954.5 422.3,953.7 422.8,954.3 423.3,955.1 423.8,954.5 424.3,956.9 424.8,954.8 425.3,953.4 425.8,953.3 426.3,950.4 426.8,949.1 427.3,946.4 427.8,942.6 428.3,940.4 428.8,935.5 429.3,932.7 429.8,928.1 430.3,923.4 430.8,919.9 431.3,917.4 431.8,915.8 432.3,915.7 432.8,916.8 433.3,916.7 433.8,919.6 434.3,920.5 434.8,923.7 435.3,930.8 435.8,935.3 436.3,939.5 436.8,945.5 437.3,947.8 437.8,949.3 438.3,951.5 438.8,951.6 439.3,953.0 439.8,953.6 440.3,955.7 440.8,955.2 441.3,956.7 441.8,958.3 442.3,958.3 442.8,959.7 443.3,961.4 443.8,959.5 444.3,961.3 444.8,960.8 445.3,958.9 445.8,959.2 446.3,959.1 446.8,957.1 447.3,956.3 447.8,955.8 448.3,954.9 448.8,954.8 449.3,953.1 449.8,952.6 450.3,952.3 450.8,951.4 451.3,952.6 451.8,951.3 452.3,951.4 452.8,953.7 453.3,953.4 453.8,952.4 454.3,953.0 454.8,952.5 455.3,951.5 455.8,951.7 456.3,950.7 456.8,950.6 457.3,947.3 457.8,948.6 458.3,947.6 458.8,946.6 459.3,945.4 459.8,947.1 460.3,946.8 460.8,947.9 461.3,949.7 461.8,948.7 462.3,950.4 462.8,949.7 463.3,951.9 463.8,953.4 464.3,954.0 464.8,955.2 465.3,955.5 465.8,960.8 466.3,958.1 466.8,960.6 467.3,961.0 467.8,961.4 468.3,963.3 468.8,962.4 469.3,963.9 469.8,963.7 470.3,964.0 470.8,965.2 471.3,964.5 471.8,965.2 472.3,965.4 472.8,966.0 473.3,966.2 473.8,966.1 474.3,965.8 474.8,964.8 475.3,966.8 475.8,966.8 476.3,967.9 476.8,967.4 477.3,968.0 477.8,968.4 478.3,967.1 478.8,966.5 479.3,967.8 479.8,966.8 480.3,967.1 480.8,968.4 481.3,967.7 481.8,968.2 482.3,966.3 482.8,967.4 483.3,968.3 483.8,966.5 484.3,967.6 484.8,967.8 485.3,965.7 485.8,968.7 486.3,967.0 486.8,967.4 487.3,968.9 487.8,966.2 488.3,968.0 488.8,967.3 489.3,967.7 489.8,967.0 490.3,968.7 490.8,966.8 491.3,966.6 491.8,968.1 492.3,968.6 492.8,967.5 493.3,967.5 493.8,968.5 494.3,968.0 494.8,967.6 495.3,966.9 495.8,967.8 496.3,969.5 496.8,967.7 497.3,968.8 497.8,966.2 498.3,969.6 498.8,967.6 499.3,966.8 499.8,966.4 500.3,968.4 500.8,968.1 501.3,967.5 501.8,967.7 502.3,967.8 502.8,967.4 503.3,968.6 503.8,968.2 504.3,967.6 504.8,966.4 505.3,968.8 505.8,967.3 506.3,966.9 506.8,968.7 507.3,969.7 507.8,966.2 508.3,966.4 508.8,967.4 509.3,966.7 509.8,967.6 510.3,969.7 510.8,970.0 511.3,967.7 511.8,968.3 512.3,968.4 512.8,967.6 513.3,966.6 513.8,968.5 514.3,967.6 514.8,968.1 515.3,968.2 515.8,967.1 516.3,969.0 516.8,967.8 517.3,967.9 517.8,967.4 518.3,968.3 518.8,968.5 519.3,967.3 519.8,968.2 520.3,967.4 520.8,966.8 521.3,967.5 521.8,968.3 522.3,968.3 522.8,968.8 523.3,967.5 523.8,967.9 524.3,968.3 524.8,968.8 525.3,968.3 525.8,967.7 526.3,967.4 526.8,969.5 527.3,969.5 527.8,968.3 528.3,970.0 528.8,968.8 529.3,969.2 529.8,969.9 530.3,968.5 530.8,968.2 531.3,967.4 531.8,968.7 532.3,968.6 532.8,968.7 533.3,968.2 533.8,967.6 534.3,968.1 534.8,966.2 535.3,967.1 535.8,966.9 536.3,966.2 536.8,967.3 537.3,966.0 537.8,966.5 538.3,965.8 538.8,964.7 539.3,966.1 539.8,965.2 540.3,964.1 540.8,963.8 541.3,962.9 541.8,963.4 542.3,963.2 542.8,963.5 543.3,962.9 543.8,963.5 544.3,962.9 544.8,961.6 545.3,962.3 545.8,961.9 546.3,961.3 546.8,961.9 547.3,962.4 547.8,960.1 548.3,958.4 548.8,958.6 549.3,959.6 549.8,955.0 550.3,953.0 550.8,949.3 551.3,946.7 551.8,943.2 552.3,937.2 552.8,932.5 553.3,926.3 553.8,918.5 554.3,909.5 554.8,902.0 555.3,892.3 555.8,883.2 556.3,871.9 556.8,862.4 557.3,853.3 557.8,855.1 558.3,862.3 558.8,872.8 559.3,887.3 559.8,901.0 560.3,913.8 560.8,924.5 561.3,934.0 561.8,940.2 562.3,946.3 562.8,950.3 563.3,953.0 563.8,955.2 564.3,956.9 564.8,959.8 565.3,959.4 565.8,960.3 566.3,962.1 566.8,963.8 567.3,964.3 567.8,963.7 568.3,964.6 568.8,964.3 569.3,964.0 569.8,964.4 570.3,964.4 570.8,964.0 571.3,965.2 571.8,963.6 572.3,965.0 572.8,965.5 573.3,965.5 573.8,964.0 574.3,963.9 574.8,961.8 575.3,962.5 575.8,963.8 576.3,960.3 576.8,959.7 577.3,961.1 577.8,960.5 578.3,958.2 578.8,959.1 579.3,959.0 579.8,957.1 580.3,958.4 580.8,956.1 581.3,957.4 581.8,956.0 582.3,954.5 582.8,953.4 583.3,952.9 583.8,951.8 584.3,950.1 584.8,947.3 585.3,944.6 585.8,942.5 586.3,938.7 586.8,937.4 587.3,936.1 587.8,934.0 588.3,933.2 588.8,932.5 589.3,930.1 589.8,929.9 590.3,926.9 590.8,928.5 591.3,928.8 591.8,927.0 592.3,928.4 592.8,925.5 593.3,927.5 593.8,925.6 594.3,924.7 594.8,924.6 595.3,924.3 595.8,923.2 596.3,922.4 596.8,922.5 597.3,922.9 597.8,921.9 598.3,922.0 598.8,920.1 599.3,920.1 599.8,920.2 600.3,921.4 600.8,922.9 601.3,925.3 601.8,926.3 602.3,928.3 602.8,931.9 603.3,933.1 603.8,935.3 604.3,939.4 604.8,941.7 605.3,944.3 605.8,947.5 606.3,948.7 606.8,950.9 607.3,953.1 607.8,955.1 608.3,957.0 608.8,957.9 609.3,959.3 609.8,958.4 610.3,962.0 610.8,960.6 611.3,961.8 611.8,965.2 612.3,963.6 612.8,963.2 613.3,966.2 613.8,964.9 614.3,965.4 614.8,965.6 615.3,966.3 615.8,966.3 616.3,965.6 616.8,966.6 617.3,965.1 617.8,966.3 618.3,965.3 618.8,966.4 619.3,965.4 619.8,965.6 620.3,967.1 620.8,965.2 621.3,965.2 621.8,966.6 622.3,966.0 622.8,966.0 623.3,966.2 623.8,968.0 624.3,965.7 624.8,966.3 625.3,966.7 625.8,965.9 626.3,966.6 626.8,967.1 627.3,966.1 627.8,967.6 628.3,966.0 628.8,966.8 629.3,967.2 629.8,969.4 630.3,965.6 630.8,967.2 631.3,969.0 631.8,966.6 632.3,968.0 632.8,967.3 633.3,966.1 633.8,967.5 634.3,966.6 634.8,967.4 635.3,966.2 635.8,967.9 636.3,965.5 636.8,967.3 637.3,968.4 637.8,967.9 638.3,967.2 638.8,967.4 639.3,967.2 639.8,969.7 640.3,967.6 640.8,967.6 641.3,967.1 641.8,967.3 642.3,968.2 642.8,967.3 643.3,967.2 643.8,967.4 643.9,967.5" stroke="#101010"/>
</g>
<g stroke="#000" stroke-width="2.2" stroke-linecap="butt" fill="none">
<line x1="65.1" y1="13.9" x2="65.1" y2="987.8000000000001"/>
<line x1="671.4" y1="13.9" x2="671.4" y2="987.8000000000001"/>
<line x1="63.99999999999999" y1="15.0" x2="393.3" y2="15.0"/>
<line x1="403.6" y1="15.0" x2="672.5" y2="15.0"/>
<line x1="63.99999999999999" y1="986.7" x2="393.3" y2="986.7"/>
<line x1="403.6" y1="986.7" x2="672.5" y2="986.7"/>
<line x1="387.6" y1="27.5" x2="398.6" y2="3.0"/>
<line x1="397.9" y1="27.5" x2="408.9" y2="3.0"/>
<line x1="387.6" y1="999.2" x2="398.6" y2="974.7"/>
<line x1="397.9" y1="999.2" x2="408.9" y2="974.7"/>
<line x1="92.3" y1="15.0" x2="92.3" y2="27.0"/>
<line x1="92.3" y1="986.7" x2="92.3" y2="998.7"/>
<line x1="147.0" y1="15.0" x2="147.0" y2="21.5"/>
<line x1="147.0" y1="986.7" x2="147.0" y2="993.2"/>
<line x1="201.6" y1="15.0" x2="201.6" y2="27.0"/>
<line x1="201.6" y1="986.7" x2="201.6" y2="998.7"/>
<line x1="256.3" y1="15.0" x2="256.3" y2="21.5"/>
<line x1="256.3" y1="986.7" x2="256.3" y2="993.2"/>
<line x1="310.9" y1="15.0" x2="310.9" y2="27.0"/>
<line x1="310.9" y1="986.7" x2="310.9" y2="998.7"/>
<line x1="365.6" y1="15.0" x2="365.6" y2="21.5"/>
<line x1="365.6" y1="986.7" x2="365.6" y2="993.2"/>
<line x1="430.9" y1="15.0" x2="430.9" y2="27.0"/>
<line x1="430.9" y1="986.7" x2="430.9" y2="998.7"/>
<line x1="484.2" y1="15.0" x2="484.2" y2="21.5"/>
<line x1="484.2" y1="986.7" x2="484.2" y2="993.2"/>
<line x1="537.6" y1="15.0" x2="537.6" y2="27.0"/>
<line x1="537.6" y1="986.7" x2="537.6" y2="998.7"/>
<line x1="590.9" y1="15.0" x2="590.9" y2="21.5"/>
<line x1="590.9" y1="986.7" x2="590.9" y2="993.2"/>
<line x1="644.3" y1="15.0" x2="644.3" y2="27.0"/>
<line x1="644.3" y1="986.7" x2="644.3" y2="998.7"/>
</g>
<g font-size="20.5" text-anchor="middle">
<text x="400.5" y="86.3"><tspan class="o">1</tspan>2.3 GPa</text>
<text x="400.9" y="232.5"><tspan class="o">1</tspan>0 GPa</text>
<text x="397.6" y="368.1">8 GPa</text>
<text x="396.5" y="500.6">6.<tspan class="o">1</tspan> GPa</text>
<text x="399.4" y="626.7">4.3 GPa</text>
<text x="404.9" y="772.9">2.0 GPa</text>
<text x="396.0" y="879.3">HEMA</text>
<text x="399.6" y="905.4" font-size="20.7">ambient pressure</text>
</g>
<g font-size="23.5" text-anchor="middle">
<text x="92.3" y="1024.3">600</text>
<text x="201.6" y="1024.3">800</text>
<text x="310.9" y="1024.3"><tspan class="o">1</tspan>000</text>
<text x="430.9" y="1024.3"><tspan class="o">1</tspan>400</text>
<text x="537.6" y="1024.3"><tspan class="o">1</tspan>600</text>
<text x="644.3" y="1024.3"><tspan class="o">1</tspan>800</text>
</g>
<text transform="translate(267.3,1081.7) scale(1.032,1.085)" font-size="28">Raman shift, cm<tspan font-size="15.5" dx="1" dy="-14">-<tspan class="o">1</tspan></tspan></text>
<text transform="translate(22.8,623.2) rotate(-90)" font-size="28" letter-spacing="0.6">intensity, a.u.</text>
<g fill="#000"><path transform="matrix(1.0000,0.0000,0.0000,1.0000,0.00,0.00) translate(357.19,86.30) scale(0.01001,-0.00962)" d="M763 0H583V1147Q518 1085 412 1023Q306 961 223 930V1104Q374 1175 487 1276Q600 1377 647 1466H763Z"/>
<path transform="matrix(1.0000,0.0000,0.0000,1.0000,0.00,0.00) translate(366.13,232.50) scale(0.01001,-0.00962)" d="M763 0H583V1147Q518 1085 412 1023Q306 961 223 930V1104Q374 1175 487 1276Q600 1377 647 1466H763Z"/>
<path transform="matrix(1.0000,0.0000,0.0000,1.0000,0.00,0.00) translate(375.99,500.60) scale(0.01001,-0.00962)" d="M763 0H583V1147Q518 1085 412 1023Q306 961 223 930V1104Q374 1175 487 1276Q600 1377 647 1466H763Z"/>
<path transform="matrix(1.0000,0.0000,0.0000,1.0000,0.00,0.00) translate(284.75,1024.30) scale(0.01147,-0.01103)" d="M763 0H583V1147Q518 1085 412 1023Q306 961 223 930V1104Q374 1175 487 1276Q600 1377 647 1466H763Z"/>
<path transform="matrix(1.0000,0.0000,0.0000,1.0000,0.00,0.00) translate(404.75,1024.30) scale(0.01147,-0.01103)" d="M763 0H583V1147Q518 1085 412 1023Q306 961 223 930V1104Q374 1175 487 1276Q600 1377 647 1466H763Z"/>
<path transform="matrix(1.0000,0.0000,0.0000,1.0000,0.00,0.00) translate(511.45,1024.30) scale(0.01147,-0.01103)" d="M763 0H583V1147Q518 1085 412 1023Q306 961 223 930V1104Q374 1175 487 1276Q600 1377 647 1466H763Z"/>
<path transform="matrix(1.0000,0.0000,0.0000,1.0000,0.00,0.00) translate(618.15,1024.30) scale(0.01147,-0.01103)" d="M763 0H583V1147Q518 1085 412 1023Q306 961 223 930V1104Q374 1175 487 1276Q600 1377 647 1466H763Z"/>
<path transform="matrix(1.0320,0.0000,0.0000,1.0850,267.30,1081.70) translate(208.29,-14.00) scale(0.00757,-0.00727)" d="M763 0H583V1147Q518 1085 412 1023Q306 961 223 930V1104Q374 1175 487 1276Q600 1377 647 1466H763Z"/></g>
</svg>
</body></html>
